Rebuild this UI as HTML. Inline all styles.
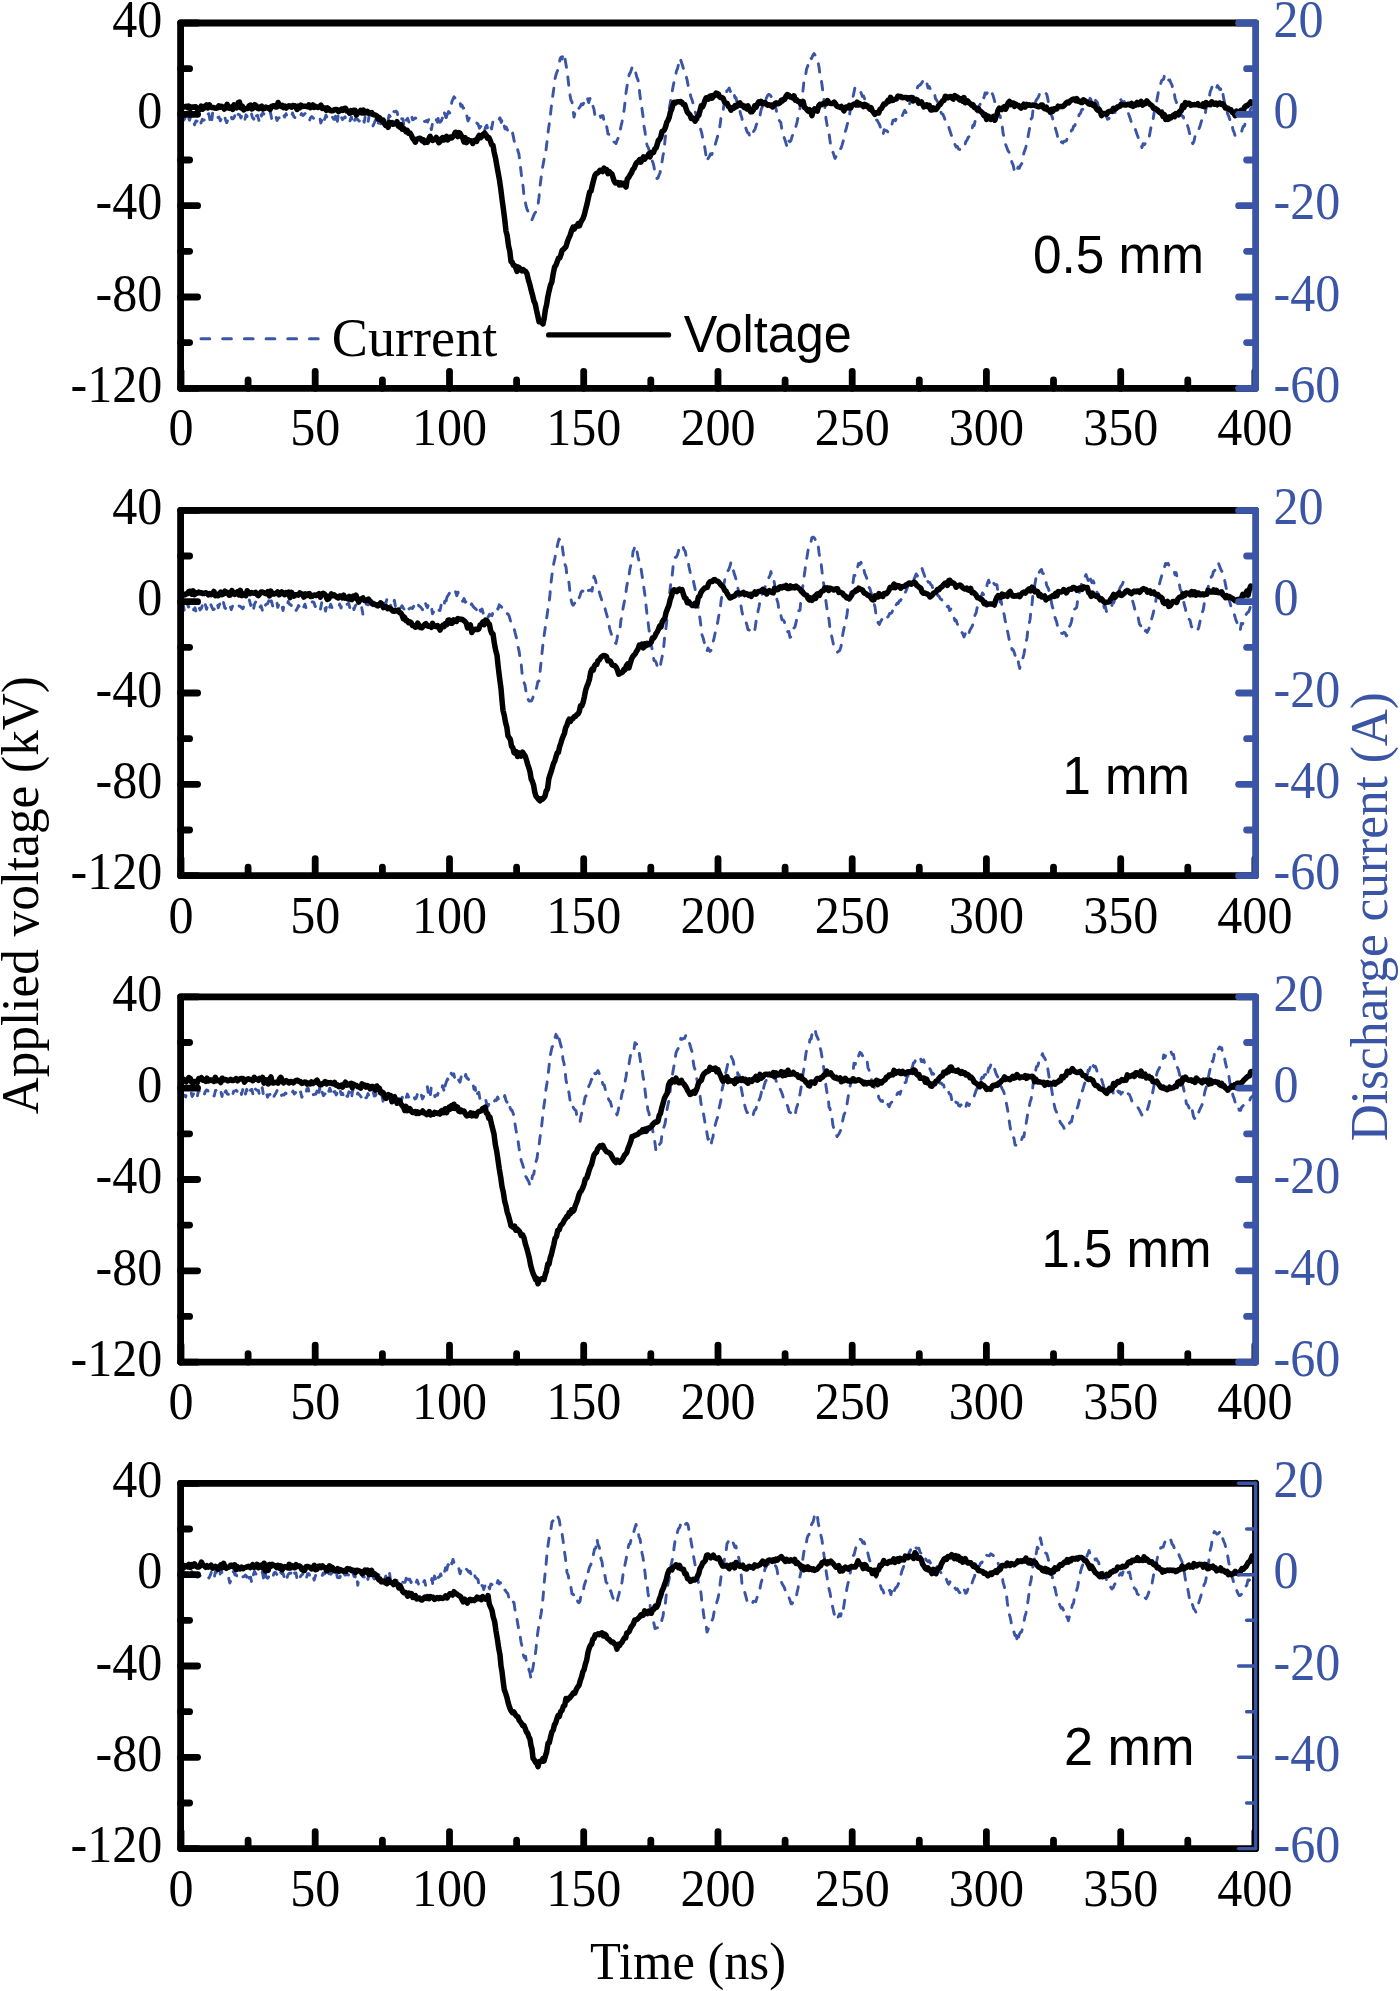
<!DOCTYPE html><html><head><meta charset="utf-8"><style>html,body{margin:0;padding:0;background:#fff;}svg{display:block}</style></head><body>
<svg width="1400" height="1991" viewBox="0 0 1400 1991">
<rect width="1400" height="1991" fill="#fff"/>
<defs><clipPath id="c0"><rect x="180.6" y="23.0" width="1075.0" height="365.3"/></clipPath></defs>
<g clip-path="url(#c0)">
<path d="M182.0 119.7 L183.2 120.6 L184.4 119.2 L185.7 115.0 L186.9 119.1 L188.2 116.6 L189.5 120.3 L190.8 116.2 L192.0 121.7 L193.3 120.5 L194.6 124.9 L195.9 120.9 L197.2 121.2 L198.5 118.2 L199.8 117.3 L201.0 123.0 L202.3 119.3 L203.6 120.3 L204.9 119.6 L206.2 120.9 L207.5 113.9 L208.8 113.8 L210.0 120.1 L211.3 124.8 L212.6 113.2 L213.9 116.5 L215.2 119.0 L216.5 116.9 L217.8 117.5 L219.0 117.1 L220.3 120.8 L221.6 118.2 L222.9 118.6 L224.2 114.7 L225.5 119.7 L226.7 122.6 L228.0 119.5 L229.3 116.8 L230.6 114.3 L231.9 118.9 L233.2 118.8 L234.5 116.8 L235.7 111.1 L237.0 115.3 L238.3 114.3 L239.6 114.8 L240.9 117.9 L242.2 114.3 L243.5 116.4 L244.7 120.6 L246.0 114.8 L247.3 116.7 L248.6 118.6 L249.9 115.1 L251.2 112.7 L252.5 117.6 L253.8 119.2 L255.1 112.1 L256.3 115.9 L257.6 115.5 L258.9 120.4 L260.2 112.4 L261.5 116.1 L262.8 112.8 L264.1 114.1 L265.4 116.8 L266.7 115.8 L268.0 116.4 L269.2 114.8 L270.5 112.5 L271.8 119.3 L273.1 120.8 L274.4 116.7 L275.7 115.8 L277.0 120.4 L278.3 118.2 L279.6 117.5 L280.9 119.3 L282.2 114.4 L283.4 114.5 L284.7 117.1 L286.0 113.7 L287.3 116.9 L288.6 117.5 L289.9 118.4 L291.2 118.2 L292.5 113.0 L293.8 116.4 L295.1 117.8 L296.4 119.6 L297.6 119.5 L298.9 116.1 L300.2 116.3 L301.5 113.6 L302.8 115.5 L304.1 114.6 L305.4 113.2 L306.7 116.0 L308.0 119.6 L309.3 121.0 L310.5 117.7 L311.8 116.5 L313.1 117.7 L314.4 119.0 L315.7 118.3 L317.0 117.9 L318.3 116.3 L319.6 116.2 L320.8 123.0 L322.1 119.9 L323.4 114.8 L324.6 119.4 L325.9 115.2 L327.2 118.0 L328.5 116.0 L329.8 118.2 L331.0 116.1 L332.3 116.9 L333.6 119.0 L334.8 119.4 L336.1 112.9 L337.4 121.3 L338.7 112.2 L339.9 114.0 L341.2 116.7 L342.5 119.6 L343.8 118.0 L345.1 116.9 L346.3 121.2 L347.6 118.6 L348.9 118.4 L350.1 120.8 L351.4 116.8 L352.7 124.6 L354.0 122.3 L355.2 118.9 L356.5 119.1 L357.8 119.5 L359.1 121.1 L360.3 120.3 L361.6 117.1 L362.9 116.5 L364.2 122.3 L365.4 115.6 L366.7 117.1 L368.0 122.5 L369.2 115.5 L370.5 120.8 L371.8 122.3 L373.0 125.9 L374.3 123.0 L375.6 119.9 L376.8 116.6 L378.1 123.1 L379.4 122.8 L380.6 123.7 L381.9 123.6 L383.2 119.5 L384.4 118.5 L385.7 116.4 L386.8 119.7 L388.0 120.0 L389.1 115.2 L390.3 116.6 L391.4 117.8 L392.6 118.5 L393.8 111.5 L394.9 112.0 L396.0 111.1 L397.2 112.3 L398.3 118.3 L399.4 119.8 L400.6 117.2 L401.7 118.8 L402.9 118.9 L404.0 126.6 L405.2 119.7 L406.5 120.1 L407.7 118.4 L408.9 122.1 L410.2 118.6 L411.4 114.6 L412.6 119.9 L413.8 119.3 L415.1 118.0 L416.3 118.3 L417.5 118.5 L418.8 118.5 L420.0 120.2 L421.3 119.8 L422.5 121.4 L423.8 121.3 L425.1 121.6 L426.3 120.6 L427.6 121.9 L428.9 119.0 L430.1 126.3 L431.4 129.6 L432.6 122.9 L433.9 119.8 L435.1 122.4 L436.3 119.8 L437.5 122.2 L438.8 114.5 L440.0 122.3 L441.2 121.2 L442.4 117.9 L443.6 110.3 L444.9 114.5 L446.1 117.5" fill="none" stroke="#3b55a6" stroke-width="2.9" stroke-dasharray="6.5 10.5" stroke-linecap="round" stroke-linejoin="round"/>
<path d="M446.1 117.5 L447.3 114.3 L448.5 111.6 L449.7 112.9 L450.8 108.3 L451.9 101.5 L452.9 99.3 L454.0 96.8 L455.1 98.1 L456.3 99.5 L457.4 99.5 L458.6 98.9 L459.7 101.3 L460.9 106.4 L462.0 105.1 L463.2 108.2 L464.4 107.7 L465.6 114.6 L466.8 115.6 L468.0 121.0 L469.3 118.0 L470.5 119.3 L471.8 119.7 L473.1 119.8 L474.4 121.0 L475.6 122.6 L476.9 123.1 L478.2 124.4 L479.5 128.2 L480.7 126.4 L482.0 127.0 L483.2 125.5 L484.4 131.1 L485.6 127.0 L486.8 125.2 L488.0 130.3 L489.2 129.5 L490.4 125.9 L491.6 129.0 L492.8 122.1 L494.0 121.1 L495.2 122.6 L496.4 120.9 L497.6 119.9 L498.8 120.3 L500.0 117.7 L501.2 122.4 L502.5 118.7 L503.8 124.3 L505.0 128.9 L506.2 127.1 L507.5 130.1 L508.8 132.8 L510.0 132.3 L511.2 134.0 L512.4 132.1 L513.6 137.9 L514.8 143.7 L516.0 144.1 L517.0 146.2 L518.0 151.2 L519.0 154.3 L520.0 163.4 L521.0 171.2 L522.0 180.9 L523.0 185.7 L524.0 195.7 L525.0 200.5 L526.0 205.7 L527.2 209.8 L528.4 211.8 L529.6 214.9 L530.8 216.6 L532.0 219.7 L533.2 216.7 L534.4 213.9 L535.6 212.2 L536.8 207.9 L538.0 205.2 L539.0 197.2 L540.0 186.4 L541.0 178.8 L542.0 170.2 L543.0 165.2 L544.0 159.7 L545.0 151.1 L546.0 150.0 L547.2 140.3 L548.5 128.8 L549.8 120.9 L551.0 109.6 L552.0 101.0 L553.0 94.2 L554.0 87.3 L555.0 78.9 L556.2 74.1 L557.5 70.7 L558.8 66.9 L560.0 59.0 L561.0 57.3 L562.0 58.9 L563.0 54.8 L564.0 53.3 L565.0 58.7 L566.0 64.7 L567.0 70.1 L568.0 78.5 L569.0 87.6 L570.0 94.9 L571.0 100.2 L572.0 101.8 L573.0 109.6 L574.0 117.1 L575.2 111.7 L576.5 113.2 L577.8 109.0 L579.0 108.2 L580.2 106.7 L581.5 104.0 L582.8 104.7 L584.0 102.5 L585.2 104.4 L586.3 100.4 L587.5 98.5 L588.7 102.6 L589.8 98.7 L591.0 98.2 L592.0 105.5 L593.0 106.3 L594.0 109.4 L595.0 115.5 L596.1 115.8 L597.3 115.4 L598.4 116.5 L599.6 114.2 L600.7 117.4 L601.9 115.7 L603.0 115.6 L604.2 122.2 L605.5 121.5 L606.8 127.1 L608.0 133.9 L609.1 134.4 L610.3 136.4 L611.4 137.1 L612.6 140.7 L613.7 142.1 L614.9 142.1 L616.0 143.5 L617.2 140.1 L618.5 137.3 L619.8 132.8 L621.0 126.2 L622.0 122.0 L623.0 116.6 L624.0 110.8 L625.0 102.3 L626.0 92.7 L627.0 86.5 L628.0 80.5 L629.2 74.4 L630.5 72.4 L631.8 68.2 L633.0 66.1 L634.2 69.5 L635.5 71.7 L636.8 77.2 L638.0 79.8 L639.0 86.5 L640.0 95.5 L641.0 103.8 L642.0 109.0 L643.0 116.3 L644.0 126.0 L645.0 131.5 L646.0 140.5 L647.2 145.8 L648.4 147.8 L649.6 152.2 L650.8 155.5 L652.0 160.4 L653.0 162.7 L654.0 166.8 L655.0 173.1 L656.0 174.8 L657.0 178.5 L658.0 177.9 L659.0 175.1 L660.0 173.0 L661.0 167.2 L662.0 162.1 L663.0 155.4 L664.0 151.5 L665.0 140.0 L666.0 132.8 L667.0 122.5 L668.0 112.1 L669.2 108.9 L670.4 102.3 L671.6 94.9 L672.8 88.1 L674.0 82.0 L675.2 76.9 L676.4 71.3 L677.6 68.2 L678.8 63.3 L680.0 58.1 L681.2 61.5 L682.4 65.1 L683.6 69.2 L684.8 73.9 L686.0 75.7 L687.2 80.4 L688.4 86.8 L689.6 90.0 L690.8 96.8 L692.0 99.7 L693.2 103.8 L694.4 109.3 L695.6 113.3 L696.8 115.9 L698.0 119.6 L699.2 126.6 L700.5 128.6 L701.8 133.3 L703.0 139.5 L704.0 143.1 L705.0 148.8 L706.0 155.7 L707.0 161.5 L708.2 158.2 L709.3 156.7 L710.5 153.8 L711.7 154.6 L712.8 151.8 L714.0 148.7 L715.2 144.8 L716.5 140.2 L717.8 135.7 L719.0 131.9 L720.0 125.6 L721.0 117.6 L722.0 114.6 L723.0 111.4 L724.2 102.9 L725.5 99.8 L726.8 90.8 L728.0 90.1 L729.2 88.0 L730.4 91.4 L731.6 90.9 L732.8 95.5 L734.0 93.9 L735.0 98.0 L736.0 97.7 L737.0 103.0 L738.0 104.3 L739.2 107.0 L740.5 113.7 L741.8 117.6 L743.0 123.8 L744.2 125.4 L745.3 126.6 L746.5 130.1 L747.7 132.9 L748.8 133.1 L750.0 137.6 L751.2 134.9 L752.5 133.5 L753.8 131.1 L755.0 129.2 L756.2 125.3 L757.5 121.9 L758.8 118.4 L760.0 115.6 L761.0 110.3 L762.0 107.4 L763.0 106.1 L764.0 102.0 L765.2 101.2 L766.5 97.9 L767.8 95.1 L769.0 94.3 L770.2 95.2 L771.5 96.9 L772.8 99.2 L774.0 98.2 L775.0 103.3 L776.0 108.8 L777.0 113.7 L778.2 118.8 L779.5 120.8 L780.8 122.5 L782.0 130.1 L783.0 131.9 L784.0 137.2 L785.0 139.9 L786.0 143.3 L787.2 147.4 L788.5 140.5 L789.8 141.8 L791.0 140.5 L792.2 136.0 L793.5 134.1 L794.8 130.5 L796.0 126.1 L797.0 122.4 L798.0 117.6 L799.0 112.4 L800.0 108.2 L801.0 103.5 L802.0 95.6 L803.0 90.2 L804.0 81.0 L805.2 78.1 L806.5 69.3 L807.8 65.9 L809.0 58.4 L810.2 57.7 L811.5 58.7 L812.8 55.4 L814.0 53.4 L815.0 55.0 L816.0 57.4 L817.0 58.1 L818.0 62.0 L819.0 67.1 L820.0 74.3 L821.0 78.4 L822.0 84.8 L823.0 92.5 L824.0 100.1 L825.0 108.1 L826.0 119.1 L827.0 124.5 L828.0 130.6 L829.0 133.5 L830.0 140.5 L831.0 147.7 L832.0 151.1 L833.0 152.3 L834.0 155.2 L835.0 158.4 L836.2 156.4 L837.4 154.3 L838.6 151.2 L839.8 149.0 L841.0 148.4 L842.2 144.6 L843.5 140.1 L844.8 132.9 L846.0 129.6 L847.2 124.5 L848.5 121.1 L849.8 113.3 L851.0 106.1 L852.0 102.8 L853.0 97.0 L854.0 92.4 L855.0 87.3 L856.2 87.3 L857.5 87.4 L858.8 88.8 L860.0 90.5 L861.2 93.2 L862.4 96.4 L863.6 96.0 L864.8 99.5 L866.0 102.4 L867.2 101.0 L868.4 103.5 L869.6 107.7 L870.8 108.8 L872.0 111.1 L873.0 112.9 L874.0 117.4 L875.0 117.5 L876.0 119.6 L877.2 120.3 L878.3 122.4 L879.5 124.5 L880.7 128.4 L881.8 129.6 L883.0 134.8 L884.2 129.6 L885.5 130.5 L886.8 130.7 L888.0 132.1 L889.2 129.1 L890.5 128.4 L891.8 124.7 L893.0 120.3 L894.2 119.8 L895.3 120.8 L896.5 118.2 L897.7 118.0 L898.8 114.9 L900.0 115.6 L901.2 115.0 L902.4 115.5 L903.6 112.4 L904.8 110.3 L906.0 112.6 L907.2 109.9 L908.4 107.4 L909.6 103.8 L910.8 100.6 L912.0 98.4 L913.2 97.3 L914.4 95.5 L915.6 90.4 L916.8 89.1 L918.0 86.3 L919.2 85.5 L920.5 84.5 L921.8 82.9 L923.0 80.6 L924.2 83.1 L925.5 85.0 L926.8 82.9 L928.0 88.0 L929.2 86.5 L930.5 89.4 L931.8 89.9 L933.0 92.3 L934.2 92.2 L935.5 98.6 L936.8 100.4 L938.0 102.6 L939.2 108.9 L940.4 111.0 L941.6 113.6 L942.8 114.2 L944.0 116.8 L945.2 120.4 L946.4 121.1 L947.6 126.1 L948.8 127.1 L950.0 131.0 L951.2 134.8 L952.5 137.6 L953.8 140.4 L955.0 144.6 L956.2 147.0 L957.4 146.5 L958.6 149.1 L959.8 149.5 L961.0 150.4 L962.2 147.8 L963.4 147.0 L964.6 146.3 L965.8 141.6 L967.0 140.3 L968.2 137.4 L969.5 136.1 L970.8 133.9 L972.0 129.7 L973.0 125.1 L974.1 125.6 L975.2 120.6 L976.2 117.2 L977.5 111.6 L978.8 106.4 L980.1 104.5 L981.4 97.5 L982.6 96.8 L983.9 97.8 L985.1 92.9 L986.4 94.0 L987.6 92.3 L988.9 93.1 L990.2 95.3 L991.5 92.3 L992.8 94.6 L993.8 98.2 L994.9 102.1 L995.9 102.8 L996.9 105.5 L998.0 112.0 L999.0 115.5 L1000.1 115.6 L1001.1 123.1 L1002.1 125.4 L1003.2 134.0 L1004.2 137.7 L1005.5 144.1 L1006.8 147.5 L1008.1 150.9 L1009.4 152.7 L1010.6 156.2 L1011.9 162.5 L1013.1 164.9 L1014.4 171.1 L1015.6 173.3 L1016.8 170.8 L1018.1 167.0 L1019.3 168.2 L1020.6 165.2 L1021.8 163.7 L1022.8 159.1 L1023.9 152.8 L1024.9 150.0 L1025.9 147.3 L1027.0 139.8 L1028.0 136.8 L1029.0 131.5 L1030.1 125.3 L1031.1 118.9 L1032.2 117.4 L1033.2 107.9 L1034.2 104.7 L1035.2 102.9 L1036.3 100.0 L1037.3 98.7 L1038.4 96.9 L1039.4 94.4 L1040.7 94.1 L1042.0 93.4 L1043.3 95.5 L1044.6 93.7 L1045.6 93.0 L1046.7 94.2 L1047.7 98.2 L1048.7 104.2 L1049.8 107.7 L1050.8 112.7 L1051.8 115.8 L1052.8 118.9 L1053.9 124.8 L1054.9 126.7 L1056.0 130.3 L1057.0 133.9 L1058.0 138.6 L1059.1 140.3 L1060.3 143.6 L1061.6 141.9 L1062.8 143.0 L1064.1 141.1 L1065.3 141.3 L1066.5 140.6 L1067.8 136.9 L1069.0 135.3 L1070.3 134.6 L1071.5 130.1 L1072.5 129.8 L1073.6 126.2 L1074.6 126.0 L1075.7 123.3 L1076.7 121.5 L1077.9 120.3 L1079.2 114.3 L1080.4 113.6 L1081.7 109.7 L1082.9 109.4 L1084.1 107.2 L1085.3 108.8 L1086.5 105.5 L1087.7 101.6 L1088.9 101.4 L1090.1 98.3 L1091.1 99.7 L1092.2 98.3 L1093.2 97.1 L1094.3 96.1 L1095.3 100.3 L1096.3 101.2 L1097.4 102.4 L1098.4 106.7 L1099.5 108.0 L1100.5 108.9 L1101.5 113.5 L1102.6 114.6 L1103.9 114.6 L1105.2 114.7 L1106.4 116.6 L1107.7 119.3 L1108.9 118.7 L1110.1 116.1 L1111.3 115.6 L1112.6 112.2 L1113.8 111.2 L1115.0 112.4 L1116.0 108.2 L1117.1 105.9 L1118.1 104.0 L1119.2 100.3 L1120.2 98.0 L1121.2 100.4 L1122.2 101.5 L1123.3 101.9 L1124.3 101.5 L1125.3 105.3 L1126.4 108.7 L1127.4 113.5 L1128.5 113.6 L1129.5 116.5 L1130.5 119.4 L1131.6 123.6 L1132.6 123.9 L1133.7 126.4 L1134.7 127.5 L1135.9 130.9 L1137.1 134.5 L1138.3 137.7 L1139.5 139.9 L1140.7 143.0 L1141.9 147.7 L1143.1 143.7 L1144.4 144.7 L1145.6 142.9 L1146.9 142.4 L1148.1 141.9 L1149.1 137.3 L1150.2 131.6 L1151.2 126.2 L1152.3 124.0 L1153.3 118.1 L1154.3 111.8 L1155.4 109.7 L1156.4 102.5 L1157.5 97.0 L1158.5 91.5 L1159.5 89.0 L1160.6 84.1 L1161.6 80.7 L1162.7 79.8 L1163.7 79.0 L1164.7 74.1 L1165.7 74.5 L1166.8 76.6 L1167.8 79.0 L1168.9 80.4 L1169.9 80.1 L1170.9 83.0 L1172.0 85.0 L1173.0 90.8 L1174.0 90.4 L1175.0 98.3 L1176.1 101.2 L1177.1 104.9 L1178.3 105.4 L1179.6 109.8 L1180.8 113.5 L1182.1 116.2 L1183.3 116.5 L1184.3 121.8 L1185.4 121.4 L1186.4 122.5 L1187.5 125.5 L1188.5 128.7 L1189.5 133.2 L1190.6 135.8 L1191.7 140.0 L1192.7 143.7 L1194.0 141.3 L1195.2 135.5 L1196.5 134.3 L1197.8 133.7 L1199.1 128.6 L1200.3 125.2 L1201.6 120.6 L1202.8 120.1 L1204.1 118.8 L1205.1 114.5 L1206.2 107.7 L1207.2 103.0 L1208.2 101.8 L1209.2 97.5 L1210.2 91.7 L1211.3 89.0 L1212.3 86.1 L1213.3 84.8 L1214.4 84.0 L1215.4 85.7 L1216.5 88.1 L1217.5 85.5 L1218.5 86.9 L1219.6 89.3 L1220.6 88.7 L1221.7 94.5 L1222.7 92.2 L1223.7 98.7 L1224.8 103.4 L1225.8 104.8 L1226.8 110.6 L1227.8 114.4 L1228.9 116.7 L1230.0 120.1 L1231.0 125.0 L1232.0 124.5 L1233.0 129.9 L1234.1 132.3 L1235.1 135.8 L1236.3 134.7 L1237.6 135.3 L1238.8 134.1 L1240.1 133.1 L1241.3 132.6 L1242.3 129.1 L1243.4 126.1 L1244.4 126.2 L1245.5 121.5 L1246.5 119.0 L1247.5 116.8 L1248.6 116.0 L1249.6 111.8 L1250.7 109.0 L1251.9 107.4 L1253.0 105.1" fill="none" stroke="#3b55a6" stroke-width="2.9" stroke-dasharray="8.3 9.7" stroke-linecap="round" stroke-linejoin="round"/>
<path d="M182.0 108.0 L183.4 107.3 L184.7 106.8 L186.1 106.2 L187.5 107.7 L188.8 106.1 L190.2 108.6 L191.6 107.1 L192.9 107.1 L194.3 107.2 L195.7 106.7 L197.0 108.6 L198.4 108.0 L199.8 109.7 L201.1 106.2 L202.5 109.2 L203.8 106.5 L205.2 107.5 L206.6 104.9 L207.9 107.9 L209.3 104.8 L210.7 107.1 L212.0 107.5 L213.4 107.5 L214.8 108.1 L216.1 108.2 L217.5 107.9 L218.9 105.8 L220.2 107.2 L221.6 106.3 L223.0 107.3 L224.3 109.1 L225.7 107.5 L227.1 104.3 L228.5 108.0 L229.9 108.4 L231.2 107.1 L232.6 109.4 L234.0 104.9 L235.4 105.8 L236.8 107.8 L238.2 102.6 L239.5 102.1 L240.9 107.9 L242.3 106.1 L243.7 109.9 L245.1 108.8 L246.5 108.4 L247.9 108.4 L249.2 105.7 L250.6 105.1 L252.0 109.0 L253.4 107.8 L254.8 104.7 L256.2 105.9 L257.6 108.4 L258.9 108.7 L260.3 106.9 L261.7 106.1 L263.1 109.0 L264.5 108.5 L265.9 107.1 L267.2 107.9 L268.6 107.8 L270.0 109.4 L271.4 106.6 L272.7 106.0 L274.1 105.7 L275.4 107.0 L276.8 106.9 L278.1 102.5 L279.5 105.3 L280.8 106.4 L282.2 105.4 L283.5 107.5 L284.9 106.2 L286.2 108.0 L287.5 106.8 L288.9 105.7 L290.2 106.3 L291.6 107.2 L292.9 105.4 L294.3 105.6 L295.6 106.2 L297.0 109.5 L298.3 106.1 L299.7 107.8 L301.0 105.2 L302.3 106.6 L303.7 106.2 L305.0 106.2 L306.3 106.4 L307.7 106.8 L309.0 104.8 L310.3 107.7 L311.7 106.9 L313.0 105.0 L314.3 107.4 L315.6 106.2 L317.0 107.1 L318.3 107.5 L319.6 106.7 L321.0 105.2 L322.3 108.5 L323.6 108.0 L325.0 108.1 L326.3 110.3 L327.7 108.0 L329.0 109.1 L330.4 110.6 L331.8 110.9 L333.1 110.5 L334.5 109.7 L335.9 109.4 L337.3 109.7 L338.6 111.6 L340.0 110.5 L341.4 109.1 L342.7 110.3 L344.1 108.7 L345.5 108.2 L346.9 111.1 L348.2 110.9 L349.6 113.2 L351.0 110.6 L352.3 112.0 L353.7 110.3 L355.1 110.2 L356.4 115.2 L357.8 112.8 L359.2 112.2 L360.6 110.5 L361.9 113.0 L363.3 110.0 L364.7 113.1 L366.1 112.9 L367.4 111.4 L368.8 113.2 L370.2 112.8 L371.6 112.6 L372.9 114.5 L374.3 114.8 L375.6 115.1 L376.8 116.0 L378.1 119.1 L379.4 117.7 L380.6 119.0 L381.9 121.1 L383.2 120.2 L384.4 123.4 L385.7 125.4 L387.0 124.5 L388.2 127.3 L389.5 122.3 L390.7 123.6 L392.0 122.6 L393.2 124.3 L394.5 123.7 L395.7 123.5 L397.0 121.7 L398.3 125.9 L399.6 127.1 L400.9 124.7 L402.2 129.3 L403.4 128.1 L404.7 129.4 L406.0 131.7 L407.3 130.4 L408.6 133.3 L410.0 133.0 L411.3 135.1 L412.7 138.3 L414.0 139.9 L415.4 142.2 L416.7 139.2 L418.1 138.8 L419.4 138.2 L420.7 138.6 L422.1 140.8 L423.4 139.8 L424.7 142.6 L426.1 141.8 L427.4 142.3 L428.7 139.2 L430.1 136.3 L431.4 139.1 L432.6 140.5 L433.9 139.6 L435.1 139.1 L436.3 137.5 L437.5 139.6 L438.8 142.7 L440.0 141.5 L441.3 138.8 L442.6 137.6 L443.9 140.0 L445.2 139.5 L446.5 136.4 L447.8 139.9 L449.1 137.7 L450.4 137.1 L451.7 138.0 L453.0 136.5 L454.3 134.7 L455.4 132.2 L456.6 132.6 L457.7 136.6 L458.9 132.6 L460.0 133.2 L461.3 135.8 L462.7 138.0 L464.0 141.9 L465.2 137.6 L466.5 142.6 L467.8 139.5 L469.0 140.9 L470.2 140.7 L471.5 141.0 L472.8 143.5 L474.0 140.5 L475.3 140.0 L476.7 141.3 L478.0 137.5 L479.3 135.3 L480.7 137.6 L482.0 136.3 L483.3 134.2 L484.7 133.1 L486.0 134.8 L487.4 138.2 L488.8 137.5 L490.2 140.4 L491.6 144.6 L493.0 145.4 L494.2 152.3 L495.5 158.0 L496.8 165.3 L498.0 172.1 L499.3 178.9 L500.7 188.3 L502.0 199.0 L503.3 208.3 L504.7 219.4 L506.0 231.1 L507.2 235.7 L508.5 245.7 L509.8 251.2 L511.0 261.5 L512.2 262.2 L513.4 265.3 L514.6 265.5 L515.8 267.9 L517.0 271.4 L518.0 266.9 L519.3 267.8 L520.6 269.4 L521.9 270.8 L523.1 269.6 L524.4 270.8 L525.7 271.5 L527.0 273.9 L528.4 279.9 L529.8 284.4 L531.2 290.3 L532.6 295.3 L534.0 301.3 L535.2 303.7 L536.5 310.3 L537.8 315.9 L539.0 321.8 L540.3 321.1 L541.7 322.7 L543.0 323.9 L544.2 318.1 L545.4 309.7 L546.6 304.7 L547.8 297.0 L549.0 291.3 L550.4 285.4 L551.8 282.2 L553.2 273.7 L554.6 267.1 L556.0 265.0 L557.2 261.7 L558.5 258.1 L559.8 257.8 L561.0 254.4 L562.2 250.4 L563.5 249.3 L564.8 248.0 L566.0 246.6 L567.4 241.8 L568.8 238.1 L570.2 235.1 L571.6 230.6 L573.0 227.2 L574.3 229.0 L575.6 226.3 L576.9 226.3 L578.1 223.6 L579.4 225.9 L580.7 222.6 L582.0 220.1 L583.2 218.2 L584.5 214.1 L585.8 208.7 L587.0 204.3 L588.3 198.1 L589.7 191.8 L591.0 191.1 L592.3 185.2 L593.7 179.7 L595.0 175.2 L596.3 173.6 L597.6 173.0 L598.9 171.8 L600.1 170.3 L601.4 170.2 L602.7 171.6 L604.0 168.1 L605.3 170.4 L606.7 169.6 L608.0 173.6 L609.3 171.6 L610.7 173.3 L612.0 174.3 L613.0 177.4 L614.0 180.7 L615.3 183.0 L616.7 182.4 L618.0 182.4 L619.3 185.0 L620.7 182.8 L622.0 184.8 L623.3 183.3 L624.7 185.0 L626.0 187.0 L627.3 178.9 L628.7 177.5 L630.0 175.0 L631.4 172.9 L632.8 169.6 L634.2 168.0 L635.6 164.4 L637.0 162.3 L638.3 162.0 L639.6 159.5 L640.9 162.1 L642.2 158.9 L643.5 156.9 L644.8 159.1 L646.1 157.1 L647.4 156.4 L648.7 153.9 L650.0 156.9 L651.2 152.5 L652.4 153.1 L653.6 152.2 L654.8 148.9 L656.0 148.0 L657.2 144.5 L658.4 140.3 L659.6 139.3 L660.8 136.9 L662.0 131.5 L663.2 131.0 L664.4 129.9 L665.6 126.7 L666.8 122.3 L668.0 120.4 L669.2 117.5 L670.4 112.1 L671.6 109.5 L672.8 105.2 L674.0 102.4 L675.3 103.0 L676.7 101.9 L678.0 101.7 L679.3 101.9 L680.7 101.5 L682.0 102.4 L683.3 104.4 L684.7 104.4 L686.0 108.4 L687.3 112.0 L688.7 113.7 L690.0 114.8 L691.2 118.3 L692.5 117.8 L693.8 118.6 L695.0 121.2 L696.2 118.8 L697.5 116.6 L698.8 115.3 L700.0 110.7 L701.2 105.8 L702.4 107.1 L703.6 104.5 L704.8 100.9 L706.0 98.0 L707.2 97.7 L708.5 99.1 L709.8 96.2 L711.0 95.9 L712.2 98.1 L713.5 95.4 L714.8 95.7 L716.0 93.0 L717.2 93.6 L718.4 94.0 L719.6 96.9 L720.8 97.6 L722.0 97.4 L723.3 98.6 L724.6 102.1 L725.9 103.3 L727.1 103.3 L728.4 106.4 L729.7 107.1 L731.0 110.2 L732.3 107.7 L733.6 108.2 L734.9 105.7 L736.1 106.8 L737.4 105.9 L738.7 103.4 L740.0 102.9 L741.3 105.5 L742.7 105.2 L744.0 107.3 L745.3 106.5 L746.7 108.8 L748.0 105.8 L749.3 109.5 L750.7 111.9 L752.0 111.7 L753.3 110.1 L754.7 105.8 L756.0 107.4 L757.3 104.4 L758.7 101.9 L760.0 103.0 L761.2 101.4 L762.5 103.8 L763.8 103.2 L765.0 102.4 L766.2 104.1 L767.5 105.2 L768.8 104.7 L770.0 105.4 L771.2 105.1 L772.5 106.9 L773.8 105.4 L775.0 103.6 L776.2 102.8 L777.5 103.8 L778.8 103.5 L780.0 102.9 L781.2 100.4 L782.4 100.9 L783.6 99.2 L784.8 99.4 L786.0 96.2 L787.3 94.6 L788.7 95.2 L790.0 96.9 L791.3 97.0 L792.7 97.9 L794.0 95.8 L795.3 100.3 L796.7 99.8 L798.0 101.5 L799.3 101.5 L800.7 104.1 L802.0 103.4 L803.2 101.5 L804.5 107.4 L805.8 108.3 L807.0 109.8 L808.2 111.0 L809.5 109.7 L810.8 111.8 L812.0 115.6 L813.3 111.0 L814.7 108.8 L816.0 110.2 L817.3 111.1 L818.7 105.9 L820.0 104.4 L821.2 104.8 L822.5 104.0 L823.8 103.2 L825.0 104.1 L826.2 103.8 L827.5 100.5 L828.8 102.6 L830.0 103.2 L831.4 103.5 L832.8 103.4 L834.2 102.1 L835.6 104.0 L837.0 106.4 L838.4 106.7 L839.8 107.4 L841.2 106.4 L842.6 108.5 L844.0 110.8 L845.3 107.4 L846.7 106.9 L848.0 107.9 L849.3 105.4 L850.7 107.9 L852.0 105.3 L853.3 104.4 L854.7 104.0 L856.0 104.9 L857.2 102.2 L858.5 105.0 L859.8 103.7 L861.0 105.0 L862.2 104.8 L863.5 106.5 L864.8 104.4 L866.0 105.0 L867.2 106.6 L868.5 107.4 L869.8 109.1 L871.0 107.6 L872.2 110.7 L873.5 112.2 L874.8 114.4 L876.0 113.0 L877.3 112.3 L878.7 113.0 L880.0 109.4 L881.3 108.6 L882.7 106.3 L884.0 103.9 L885.3 104.1 L886.7 102.5 L888.0 100.3 L889.2 101.3 L890.5 97.4 L891.8 100.6 L893.0 100.4 L894.2 99.4 L895.5 99.1 L896.8 98.6 L898.0 96.0 L899.4 96.5 L900.8 96.4 L902.2 97.8 L903.6 97.6 L905.0 97.6 L906.4 97.4 L907.8 99.1 L909.2 97.8 L910.6 97.6 L912.0 97.5 L913.3 100.9 L914.7 99.8 L916.0 99.3 L917.3 100.0 L918.7 103.3 L920.0 102.8 L921.3 101.8 L922.7 104.5 L924.0 106.9 L925.3 105.4 L926.7 104.9 L928.0 106.8 L929.3 105.3 L930.7 109.9 L932.0 109.9 L933.3 108.0 L934.7 109.6 L936.0 109.5 L937.3 107.9 L938.7 105.5 L940.0 104.7 L941.3 102.8 L942.7 100.7 L944.0 100.4 L945.3 96.3 L946.7 96.6 L948.0 97.8 L949.3 96.9 L950.7 96.5 L952.0 98.0 L953.3 99.0 L954.7 95.5 L956.0 96.6 L957.3 96.9 L958.7 99.0 L960.0 100.0 L961.3 98.7 L962.7 101.1 L964.0 97.5 L965.3 102.8 L966.7 100.5 L968.0 101.2 L969.3 103.1 L970.6 103.8 L971.9 105.4 L973.1 104.9 L974.4 107.5 L975.7 107.7 L977.0 109.6 L978.3 108.6 L979.7 110.8 L981.1 111.6 L982.5 113.0 L983.8 115.3 L985.2 114.6 L986.6 119.4 L988.0 116.0 L989.4 117.0 L990.8 119.3 L992.1 117.5 L993.5 116.3 L994.9 120.2 L995.9 117.0 L997.0 114.2 L998.0 110.6 L999.3 108.1 L1000.5 109.0 L1001.8 109.6 L1003.1 107.6 L1004.3 106.6 L1005.6 109.2 L1006.9 106.4 L1008.1 103.0 L1009.4 101.4 L1010.7 104.6 L1012.0 103.4 L1013.3 103.0 L1014.5 106.4 L1015.8 104.2 L1017.1 105.2 L1018.4 105.4 L1019.7 106.9 L1021.1 108.1 L1022.5 106.8 L1023.8 104.2 L1025.2 107.1 L1026.6 104.4 L1028.0 105.3 L1029.3 104.8 L1030.7 105.4 L1032.1 105.3 L1033.4 105.0 L1034.7 105.5 L1036.0 105.6 L1037.3 106.4 L1038.6 106.7 L1039.9 106.5 L1041.2 105.1 L1042.5 105.0 L1043.8 108.1 L1045.1 108.8 L1046.4 107.1 L1047.7 109.9 L1049.0 109.9 L1050.3 112.2 L1051.6 109.3 L1052.9 111.2 L1054.2 108.8 L1055.5 108.8 L1056.8 108.9 L1058.1 106.2 L1059.3 106.7 L1060.6 106.6 L1061.9 106.5 L1063.2 106.4 L1064.6 105.0 L1066.0 103.2 L1067.3 102.1 L1068.7 102.9 L1070.1 101.0 L1071.5 100.1 L1072.8 99.2 L1074.2 99.1 L1075.6 100.7 L1076.9 98.7 L1078.2 101.3 L1079.5 101.0 L1080.8 102.4 L1082.1 102.5 L1083.4 99.8 L1084.7 100.6 L1086.0 101.7 L1087.4 102.2 L1088.8 103.9 L1090.2 104.3 L1091.5 103.2 L1092.9 105.3 L1094.3 104.5 L1095.5 107.2 L1096.7 109.2 L1097.9 110.3 L1099.1 109.3 L1100.3 111.5 L1101.5 115.6 L1102.8 113.8 L1104.2 113.5 L1105.5 113.9 L1106.8 114.2 L1108.1 111.8 L1109.5 111.4 L1110.8 111.1 L1112.1 111.4 L1113.4 108.3 L1114.7 109.3 L1116.0 108.6 L1117.3 107.2 L1118.6 106.8 L1119.9 106.3 L1121.2 104.2 L1122.5 104.7 L1123.8 104.9 L1125.2 105.0 L1126.5 105.1 L1127.8 104.2 L1129.1 104.3 L1130.4 105.3 L1131.7 103.4 L1133.1 106.3 L1134.4 104.5 L1135.7 105.1 L1137.1 102.4 L1138.5 104.5 L1139.8 103.7 L1141.2 101.5 L1142.6 105.1 L1144.0 103.2 L1145.3 103.6 L1146.7 100.9 L1148.1 102.5 L1149.5 103.9 L1150.9 104.9 L1152.2 106.0 L1153.6 108.5 L1155.0 108.2 L1156.4 109.5 L1157.7 110.1 L1159.1 112.1 L1160.4 113.0 L1161.7 112.2 L1163.0 116.5 L1164.4 114.7 L1165.7 119.4 L1167.0 117.2 L1168.2 119.4 L1169.5 117.0 L1170.8 117.9 L1172.0 116.5 L1173.3 115.2 L1174.6 116.7 L1175.8 113.5 L1177.1 113.5 L1178.5 114.8 L1179.9 111.1 L1181.2 110.7 L1182.6 105.6 L1184.0 107.6 L1185.4 102.6 L1186.8 104.3 L1188.2 103.2 L1189.5 103.5 L1190.9 105.4 L1192.3 104.7 L1193.7 104.7 L1195.0 104.6 L1196.4 104.8 L1197.8 103.7 L1199.2 105.4 L1200.6 105.4 L1202.0 106.1 L1203.3 103.9 L1204.7 106.7 L1206.1 102.5 L1207.5 104.3 L1208.9 104.4 L1210.3 104.7 L1211.7 101.8 L1213.1 103.4 L1214.4 104.3 L1215.8 103.2 L1217.2 104.8 L1218.6 103.4 L1220.0 103.0 L1221.3 104.4 L1222.7 103.9 L1224.1 105.4 L1225.4 108.1 L1226.8 108.0 L1228.2 108.4 L1229.6 109.8 L1230.9 109.8 L1232.3 112.5 L1233.7 112.3 L1235.1 115.6 L1236.5 111.1 L1237.9 114.0 L1239.2 112.5 L1240.6 110.7 L1242.0 109.9 L1243.4 110.4 L1244.6 107.2 L1245.9 105.8 L1247.1 105.9 L1248.3 104.6 L1249.5 103.8 L1250.8 101.8 L1252.0 103.3" fill="none" stroke="#000" stroke-width="5.5" stroke-linejoin="round" stroke-linecap="round"/>
</g>
<g stroke="#000" stroke-width="6.8" stroke-linecap="round" fill="none">
<path d="M1255.6 23.0 L180.6 23.0 L180.6 388.3 L1255.6 388.3" stroke-linejoin="round"/>
<path d="M180.6 23.0 H197.6"/>
<path d="M180.6 68.7 H189.6"/>
<path d="M180.6 114.3 H197.6"/>
<path d="M180.6 160.0 H189.6"/>
<path d="M180.6 205.7 H197.6"/>
<path d="M180.6 251.3 H189.6"/>
<path d="M180.6 297.0 H197.6"/>
<path d="M180.6 342.6 H189.6"/>
<path d="M180.6 388.3 H197.6"/>
<path d="M181.0 388.3 V371.3"/>
<path d="M248.1 388.3 V379.8"/>
<path d="M315.2 388.3 V371.3"/>
<path d="M382.4 388.3 V379.8"/>
<path d="M449.5 388.3 V371.3"/>
<path d="M516.6 388.3 V379.8"/>
<path d="M583.7 388.3 V371.3"/>
<path d="M650.8 388.3 V379.8"/>
<path d="M718.0 388.3 V371.3"/>
<path d="M785.1 388.3 V379.8"/>
<path d="M852.2 388.3 V371.3"/>
<path d="M919.3 388.3 V379.8"/>
<path d="M986.4 388.3 V371.3"/>
<path d="M1053.5 388.3 V379.8"/>
<path d="M1120.7 388.3 V371.3"/>
<path d="M1187.8 388.3 V379.8"/>
<path d="M1254.9 388.3 V371.3"/>
</g>
<g stroke="#3b55a6" stroke-width="6.8" stroke-linecap="round" fill="none">
<path d="M1255.6 23.0 V388.3"/>
<path d="M1255.6 23.0 H1238.6"/>
<path d="M1255.6 68.7 H1246.6"/>
<path d="M1255.6 114.3 H1238.6"/>
<path d="M1255.6 160.0 H1246.6"/>
<path d="M1255.6 205.7 H1238.6"/>
<path d="M1255.6 251.3 H1246.6"/>
<path d="M1255.6 297.0 H1238.6"/>
<path d="M1255.6 342.6 H1246.6"/>
<path d="M1255.6 388.3 H1238.6"/>
</g>
<g font-family="Liberation Serif" font-size="52.3" fill="#000">
<text transform="translate(162.3 36.7) scale(0.958 1)" text-anchor="end">40</text>
<text transform="translate(162.3 128.0) scale(0.958 1)" text-anchor="end">0</text>
<text transform="translate(162.3 219.3) scale(0.958 1)" text-anchor="end">-40</text>
<text transform="translate(162.3 310.7) scale(0.958 1)" text-anchor="end">-80</text>
<text transform="translate(162.3 402.0) scale(0.958 1)" text-anchor="end">-120</text>
<text transform="translate(181.0 445.3) scale(0.958 1)" text-anchor="middle">0</text>
<text transform="translate(315.2 445.3) scale(0.958 1)" text-anchor="middle">50</text>
<text transform="translate(449.5 445.3) scale(0.958 1)" text-anchor="middle">100</text>
<text transform="translate(583.7 445.3) scale(0.958 1)" text-anchor="middle">150</text>
<text transform="translate(718.0 445.3) scale(0.958 1)" text-anchor="middle">200</text>
<text transform="translate(852.2 445.3) scale(0.958 1)" text-anchor="middle">250</text>
<text transform="translate(986.4 445.3) scale(0.958 1)" text-anchor="middle">300</text>
<text transform="translate(1120.7 445.3) scale(0.958 1)" text-anchor="middle">350</text>
<text transform="translate(1254.9 445.3) scale(0.958 1)" text-anchor="middle">400</text>
</g>
<g font-family="Liberation Serif" font-size="52.3" fill="#3b55a6">
<text transform="translate(1273.5 36.7) scale(0.958 1)">20</text>
<text transform="translate(1273.5 128.0) scale(0.958 1)">0</text>
<text transform="translate(1273.5 219.3) scale(0.958 1)">-20</text>
<text transform="translate(1273.5 310.7) scale(0.958 1)">-40</text>
<text transform="translate(1273.5 402.0) scale(0.958 1)">-60</text>
</g>
<defs><clipPath id="c1"><rect x="180.6" y="510.4" width="1075.0" height="365.3"/></clipPath></defs>
<g clip-path="url(#c1)">
<path d="M182.0 604.5 L183.3 605.3 L184.6 612.1 L185.9 605.0 L187.2 602.5 L188.5 607.0 L189.8 606.6 L191.1 608.0 L192.4 605.2 L193.7 610.1 L195.0 607.8 L196.3 612.9 L197.6 607.7 L198.9 606.8 L200.1 609.9 L201.4 608.4 L202.7 604.1 L204.0 608.2 L205.3 604.3 L206.6 609.3 L207.9 604.5 L209.2 607.0 L210.5 603.9 L211.8 606.9 L213.1 609.6 L214.4 609.0 L215.7 604.2 L217.0 602.4 L218.3 607.8 L219.6 604.1 L220.9 603.8 L222.2 607.7 L223.5 602.6 L224.8 607.9 L226.1 608.6 L227.4 605.8 L228.6 603.4 L229.9 605.1 L231.2 609.7 L232.5 606.2 L233.8 609.0 L235.1 605.8 L236.4 606.0 L237.7 606.1 L239.0 606.0 L240.3 606.4 L241.6 607.8 L242.9 608.7 L244.2 605.1 L245.5 603.0 L246.8 603.7 L248.1 603.0 L249.4 600.1 L250.7 605.4 L252.0 603.4 L253.3 610.2 L254.6 603.9 L255.9 601.6 L257.1 606.4 L258.4 605.3 L259.7 607.6 L261.0 605.7 L262.3 610.2 L263.6 603.4 L264.9 605.9 L266.2 604.1 L267.5 603.9 L268.8 600.8 L270.1 606.8 L271.4 600.8 L272.7 606.2 L274.0 606.4 L275.3 606.3 L276.6 601.1 L277.8 607.4 L279.1 603.4 L280.4 606.3 L281.7 604.3 L283.0 610.5 L284.3 603.8 L285.6 604.8 L286.9 606.1 L288.2 601.5 L289.4 604.1 L290.7 604.8 L292.0 606.1 L293.3 604.5 L294.6 610.2 L295.9 610.6 L297.2 608.7 L298.5 605.5 L299.8 607.2 L301.0 611.1 L302.3 610.2 L303.6 607.4 L304.9 604.2 L306.2 608.7 L307.5 607.7 L308.8 605.9 L310.1 605.3 L311.4 602.2 L312.6 601.8 L313.9 602.4 L315.2 606.5 L316.5 606.3 L317.8 603.9 L319.1 605.2 L320.4 609.5 L321.7 602.7 L322.9 604.7 L324.2 602.7 L325.5 611.1 L326.8 604.9 L328.1 609.7 L329.4 607.9 L330.7 604.3 L332.0 607.6 L333.3 606.5 L334.5 607.3 L335.8 606.5 L337.1 607.7 L338.4 607.6 L339.7 604.1 L341.0 608.1 L342.3 604.0 L343.6 602.7 L344.9 605.1 L346.1 603.8 L347.4 604.4 L348.7 603.3 L350.0 608.4 L351.3 608.5 L352.6 604.5 L353.9 609.7 L355.2 606.0 L356.5 604.3 L357.7 603.6 L359.0 607.4 L360.3 606.0 L361.6 607.0 L362.9 614.1 L364.2 608.7 L365.4 605.9 L366.7 603.1 L368.0 604.8 L369.2 603.9 L370.5 604.0 L371.8 599.2 L373.0 605.7 L374.3 602.3 L375.6 610.9 L376.8 604.3 L378.1 607.3 L379.4 605.6 L380.6 602.5 L381.9 605.0 L383.2 603.2 L384.4 603.2 L385.7 603.9 L386.9 599.3 L388.2 608.5 L389.4 606.8 L390.7 605.3 L391.9 609.8 L393.2 603.9 L394.4 600.3 L395.7 608.0 L396.9 605.5 L398.2 608.0 L399.4 607.1 L400.7 607.8 L402.0 605.7 L403.3 608.0 L404.5 609.9 L405.8 608.8 L407.1 612.3 L408.4 609.2 L409.7 608.5 L411.0 607.8 L412.3 608.6 L413.6 606.6 L414.9 603.4 L416.1 603.9 L417.4 601.8 L418.7 605.8 L420.0 606.5 L421.2 607.7 L422.5 609.7 L423.8 605.7 L425.0 601.5 L426.2 605.6 L427.5 607.6 L428.8 602.8 L430.0 604.8 L431.2 605.4 L432.5 613.8 L433.8 611.6 L435.0 607.1 L436.2 608.0 L437.5 609.7 L438.8 610.3 L440.0 610.5 L441.2 604.7 L442.4 603.0 L443.6 606.9 L444.8 601.1 L446.0 600.8" fill="none" stroke="#3b55a6" stroke-width="2.9" stroke-dasharray="6.5 10.5" stroke-linecap="round" stroke-linejoin="round"/>
<path d="M446.0 600.8 L447.2 596.7 L448.4 595.0 L449.6 592.9 L450.8 589.7 L452.0 590.2 L453.2 590.7 L454.4 590.3 L455.6 591.9 L456.8 595.7 L458.0 592.2 L459.2 596.7 L460.4 598.4 L461.6 600.5 L462.8 601.4 L464.0 598.5 L465.3 602.3 L466.6 601.1 L467.9 604.1 L469.1 603.7 L470.4 605.9 L471.7 603.9 L473.0 606.3 L474.3 607.8 L475.6 608.7 L476.9 610.2 L478.1 612.8 L479.4 608.6 L480.7 611.3 L482.0 609.0 L483.2 613.4 L484.5 615.4 L485.8 613.1 L487.0 615.2 L488.2 617.0 L489.5 614.3 L490.8 615.4 L492.0 615.7 L493.2 611.4 L494.4 609.4 L495.6 609.7 L496.8 607.6 L498.0 609.1 L499.2 604.8 L500.5 606.0 L501.8 607.3 L503.0 611.9 L504.2 611.9 L505.5 612.9 L506.8 613.4 L508.0 614.1 L509.2 616.1 L510.4 620.5 L511.6 622.4 L512.8 625.9 L514.0 627.8 L515.2 633.1 L516.5 638.0 L517.8 645.7 L519.0 650.7 L520.0 657.5 L521.0 661.5 L522.0 672.8 L523.0 678.8 L524.0 682.6 L525.0 685.0 L526.0 691.6 L527.0 699.1 L528.0 699.1 L529.0 701.0 L530.2 701.0 L531.5 700.8 L532.8 697.8 L534.0 694.4 L535.2 689.1 L536.5 688.2 L537.8 681.7 L539.0 681.2 L540.0 672.5 L541.0 662.5 L542.0 653.0 L543.0 643.8 L544.2 635.1 L545.5 626.0 L546.8 617.2 L548.0 608.7 L549.0 603.0 L550.0 594.4 L551.0 583.0 L552.0 574.7 L553.0 567.6 L554.0 562.2 L555.0 557.8 L556.0 551.3 L557.0 547.3 L558.0 542.9 L559.0 539.1 L560.0 539.7 L561.0 544.3 L562.0 543.7 L563.0 552.3 L564.0 558.4 L565.0 564.6 L566.0 567.0 L567.0 576.2 L568.0 578.9 L569.0 582.7 L570.0 592.5 L571.0 599.2 L572.0 603.8 L573.2 605.2 L574.4 603.4 L575.6 602.3 L576.8 599.5 L578.0 601.0 L579.0 598.1 L580.0 595.7 L581.0 592.4 L582.0 591.0 L583.2 591.3 L584.5 589.1 L585.8 590.2 L587.0 592.6 L588.2 590.5 L589.5 590.4 L590.8 589.7 L592.0 591.1 L593.0 584.3 L594.0 576.3 L595.2 579.0 L596.4 584.1 L597.6 588.0 L598.8 590.2 L600.0 594.7 L601.2 598.3 L602.4 602.3 L603.6 605.0 L604.8 607.6 L606.0 612.2 L607.2 616.3 L608.4 621.6 L609.6 628.3 L610.8 632.3 L612.0 636.1 L613.0 638.5 L614.0 640.8 L615.0 642.6 L616.0 643.5 L617.0 639.0 L618.0 632.2 L619.0 630.6 L620.0 628.6 L621.0 619.5 L622.0 617.0 L623.0 608.4 L624.0 603.4 L625.2 598.0 L626.5 587.7 L627.8 580.8 L629.0 575.5 L630.0 568.5 L631.0 564.5 L632.0 561.5 L633.0 551.7 L634.0 549.6 L635.0 545.4 L636.0 547.2 L637.0 551.3 L638.0 556.8 L639.0 560.9 L640.0 567.0 L641.0 568.3 L642.0 575.0 L643.0 581.4 L644.0 588.8 L645.0 595.6 L646.0 605.1 L647.0 614.2 L648.0 621.6 L649.0 629.6 L650.2 639.1 L651.5 645.9 L652.8 653.3 L654.0 660.6 L655.2 660.9 L656.4 663.2 L657.6 667.6 L658.8 667.2 L660.0 668.5 L661.0 662.0 L662.0 657.4 L663.0 652.6 L664.0 644.1 L665.0 633.1 L666.0 627.7 L667.0 619.2 L668.0 611.2 L669.0 600.4 L670.0 589.8 L671.0 582.1 L672.0 577.7 L673.0 567.1 L674.0 561.5 L675.2 557.4 L676.4 557.0 L677.6 554.3 L678.8 549.9 L680.0 547.3 L681.0 546.3 L682.0 544.7 L683.0 547.0 L684.0 549.7 L685.2 551.2 L686.5 557.7 L687.8 559.4 L689.0 566.8 L690.2 572.3 L691.5 575.4 L692.8 577.2 L694.0 584.2 L695.0 588.4 L696.0 596.3 L697.0 600.9 L698.0 605.9 L699.0 613.4 L700.0 618.6 L701.0 626.7 L702.0 635.0 L703.2 638.0 L704.5 643.5 L705.8 645.5 L707.0 651.2 L708.0 647.9 L709.0 649.9 L710.0 651.4 L711.0 650.3 L712.0 648.0 L713.0 642.5 L714.0 638.4 L715.0 633.7 L716.2 628.5 L717.5 623.2 L718.8 615.6 L720.0 611.0 L721.2 600.0 L722.5 593.1 L723.8 584.7 L725.0 578.8 L726.2 575.4 L727.4 571.5 L728.6 569.9 L729.8 566.8 L731.0 562.3 L732.2 569.0 L733.4 570.5 L734.6 574.8 L735.8 578.5 L737.0 583.1 L738.0 588.4 L739.0 595.6 L740.0 600.3 L741.0 605.8 L742.0 611.9 L743.0 616.1 L744.2 618.5 L745.5 620.5 L746.8 624.6 L748.0 629.7 L749.2 630.0 L750.4 630.6 L751.6 633.0 L752.8 633.4 L754.0 631.5 L755.0 629.1 L756.0 621.8 L757.0 618.4 L758.0 611.1 L759.0 607.0 L760.0 600.9 L761.0 597.8 L762.0 594.8 L763.2 591.1 L764.5 589.0 L765.8 584.4 L767.0 582.2 L768.0 579.8 L769.0 577.3 L770.0 575.6 L771.0 571.6 L772.0 578.1 L773.0 581.3 L774.0 581.0 L775.0 586.3 L776.0 594.6 L777.0 599.8 L778.0 603.1 L779.0 610.8 L780.0 610.6 L781.0 615.7 L782.0 619.8 L783.1 619.9 L784.3 621.5 L785.4 625.5 L786.6 627.3 L787.7 631.9 L788.9 631.6 L790.0 637.4 L791.2 636.6 L792.5 631.0 L793.8 628.1 L795.0 626.8 L796.2 621.7 L797.5 615.9 L798.8 610.7 L800.0 610.4 L801.0 598.9 L802.0 592.2 L803.0 584.8 L804.0 577.1 L805.0 570.2 L806.0 561.9 L807.0 557.1 L808.0 550.8 L809.2 545.1 L810.5 544.4 L811.8 537.8 L813.0 537.1 L814.2 537.7 L815.5 540.1 L816.8 544.6 L818.0 544.1 L819.0 552.5 L820.0 559.2 L821.0 562.4 L822.0 571.3 L823.0 580.3 L824.0 585.4 L825.0 593.5 L826.0 601.8 L827.0 608.9 L828.0 615.9 L829.0 619.3 L830.0 628.7 L831.0 633.0 L832.0 637.7 L833.0 642.3 L834.0 647.8 L835.0 649.4 L836.0 651.3 L837.2 652.3 L838.5 651.3 L839.8 650.3 L841.0 646.6 L842.0 640.1 L843.0 633.0 L844.0 628.1 L845.0 624.8 L846.0 619.6 L847.0 614.7 L848.0 606.1 L849.0 602.6 L850.0 596.0 L851.0 591.4 L852.0 586.4 L853.0 582.6 L854.0 575.5 L855.0 575.6 L856.0 569.3 L857.2 568.8 L858.5 563.6 L859.8 564.4 L861.0 562.3 L862.2 568.5 L863.5 567.6 L864.8 573.6 L866.0 576.2 L867.2 579.5 L868.5 586.6 L869.8 588.4 L871.0 592.4 L872.0 596.2 L873.0 599.6 L874.0 603.6 L875.0 606.9 L876.0 614.6 L877.0 619.1 L878.0 622.7 L879.3 624.5 L880.6 621.5 L881.9 619.3 L883.1 620.2 L884.4 619.7 L885.7 616.2 L887.0 617.7 L888.3 616.5 L889.6 613.5 L890.9 613.4 L892.1 612.2 L893.4 607.2 L894.7 608.5 L896.0 605.1 L897.1 603.2 L898.3 603.5 L899.4 600.9 L900.6 600.5 L901.7 598.0 L902.9 595.8 L904.0 596.2 L905.2 592.6 L906.4 590.2 L907.6 586.6 L908.8 585.1 L910.0 581.8 L911.2 582.3 L912.5 579.2 L913.8 579.5 L915.0 576.8 L916.2 573.9 L917.3 576.1 L918.5 573.7 L919.7 572.8 L920.8 572.7 L922.0 568.3 L923.0 571.5 L924.0 574.1 L925.0 577.2 L926.2 582.6 L927.3 580.6 L928.5 582.3 L929.7 582.4 L930.8 584.7 L932.0 585.6 L933.2 589.9 L934.4 589.3 L935.6 593.2 L936.8 593.4 L938.0 595.8 L939.1 596.2 L940.3 599.0 L941.4 599.1 L942.6 601.6 L943.7 601.8 L944.9 602.0 L946.0 602.6 L947.2 606.7 L948.4 606.2 L949.6 610.6 L950.8 609.0 L952.0 614.6 L953.0 616.2 L954.0 617.8 L955.0 620.7 L956.0 620.0 L957.1 623.3 L958.3 626.6 L959.4 629.4 L960.6 630.0 L961.7 632.2 L962.9 633.9 L964.0 637.0 L965.2 633.9 L966.4 631.2 L967.6 634.9 L968.8 633.3 L970.0 630.0 L971.2 628.1 L972.5 625.5 L973.7 622.0 L975.0 615.0 L976.2 612.8 L977.4 606.4 L978.7 605.4 L979.9 602.5 L981.2 596.7 L982.4 592.9 L983.6 594.6 L984.9 590.7 L986.1 589.4 L987.4 583.4 L988.6 580.2 L989.8 584.2 L991.0 581.9 L992.2 580.3 L993.5 583.0 L994.7 584.5 L995.9 584.8 L996.9 584.8 L998.0 592.1 L999.0 592.7 L1000.1 602.1 L1001.1 601.1 L1002.1 606.0 L1003.2 611.3 L1004.2 614.6 L1005.2 620.9 L1006.2 623.7 L1007.3 630.3 L1008.4 635.4 L1009.4 640.6 L1010.7 642.1 L1012.0 649.7 L1013.2 649.8 L1014.5 653.3 L1015.5 656.7 L1016.6 659.8 L1017.6 658.5 L1018.7 664.0 L1019.7 668.5 L1020.7 664.0 L1021.8 660.7 L1022.8 658.3 L1023.9 654.3 L1024.9 648.6 L1025.9 642.5 L1027.0 638.0 L1028.0 628.4 L1029.0 624.2 L1030.1 619.2 L1031.1 608.6 L1032.1 603.6 L1033.2 591.6 L1034.2 588.0 L1035.3 582.1 L1036.3 576.0 L1037.3 573.5 L1038.4 574.7 L1039.4 571.9 L1040.5 570.3 L1041.5 569.5 L1042.5 573.1 L1043.5 573.6 L1044.6 577.4 L1045.6 579.5 L1046.6 585.1 L1047.7 587.4 L1048.7 589.2 L1049.7 594.5 L1050.8 597.9 L1051.8 604.5 L1052.9 608.3 L1053.9 613.7 L1055.2 618.1 L1056.5 621.4 L1057.8 627.3 L1059.1 631.9 L1060.3 632.6 L1061.5 633.3 L1062.7 633.5 L1063.9 632.3 L1065.1 632.8 L1066.3 636.0 L1067.3 634.8 L1068.4 631.2 L1069.4 626.4 L1070.5 624.7 L1071.5 621.3 L1072.5 616.2 L1073.6 613.9 L1074.6 609.1 L1075.7 608.3 L1076.7 607.4 L1077.7 600.0 L1078.8 593.6 L1079.8 591.2 L1080.8 587.6 L1081.8 582.7 L1082.9 582.6 L1083.9 579.7 L1085.0 576.7 L1086.0 574.5 L1087.2 578.1 L1088.4 580.5 L1089.6 575.0 L1090.7 580.2 L1091.9 582.7 L1093.1 580.9 L1094.3 583.4 L1095.3 587.6 L1096.4 590.8 L1097.4 593.3 L1098.5 594.0 L1099.5 598.7 L1100.7 601.3 L1101.8 603.4 L1103.0 602.2 L1104.2 607.7 L1105.4 606.8 L1106.5 611.7 L1107.7 609.2 L1108.9 607.0 L1110.1 607.5 L1111.3 607.0 L1112.6 603.2 L1113.8 602.6 L1115.0 598.2 L1116.0 595.8 L1117.0 593.8 L1118.1 591.3 L1119.1 590.1 L1120.1 587.7 L1121.2 585.7 L1122.2 584.7 L1123.3 581.8 L1124.3 583.8 L1125.3 583.4 L1126.4 585.4 L1127.4 591.9 L1128.5 589.5 L1129.5 593.4 L1130.7 596.4 L1132.0 599.0 L1133.2 602.9 L1134.5 607.9 L1135.7 613.4 L1136.9 616.1 L1138.2 617.7 L1139.4 624.0 L1140.7 625.7 L1141.9 628.7 L1143.2 629.7 L1144.5 632.6 L1145.8 630.2 L1147.1 632.4 L1148.1 630.6 L1149.2 627.9 L1150.2 621.5 L1151.3 620.2 L1152.3 616.7 L1153.3 613.0 L1154.3 607.8 L1155.4 602.9 L1156.4 596.9 L1157.5 591.5 L1158.5 587.8 L1159.5 583.8 L1160.6 579.5 L1161.8 575.4 L1163.1 570.8 L1164.3 567.8 L1165.6 563.4 L1166.8 564.4 L1168.0 563.3 L1169.3 565.9 L1170.5 567.3 L1171.8 569.1 L1173.0 569.8 L1174.0 571.0 L1175.1 574.9 L1176.1 572.6 L1177.2 577.6 L1178.2 579.0 L1179.2 583.3 L1180.2 589.1 L1181.3 591.2 L1182.3 596.2 L1183.3 599.4 L1184.3 604.9 L1185.4 608.5 L1186.4 614.1 L1187.7 617.9 L1188.9 618.9 L1190.2 620.7 L1191.4 626.5 L1192.7 628.2 L1194.0 629.7 L1195.2 630.5 L1196.5 631.6 L1197.8 629.6 L1198.8 627.4 L1199.9 621.9 L1201.0 617.8 L1202.0 612.9 L1203.2 610.0 L1204.5 602.2 L1205.7 597.4 L1207.0 589.1 L1208.2 587.2 L1209.2 581.2 L1210.3 580.5 L1211.3 576.7 L1212.4 575.6 L1213.4 571.7 L1214.7 570.4 L1216.0 568.2 L1217.3 562.7 L1218.6 563.6 L1219.9 567.1 L1221.2 570.2 L1222.4 572.1 L1223.7 573.8 L1224.8 581.0 L1225.8 586.1 L1226.9 591.3 L1227.9 592.7 L1228.9 598.5 L1230.0 602.8 L1231.0 606.5 L1232.0 609.0 L1233.2 612.3 L1234.5 614.9 L1235.7 619.5 L1237.0 622.6 L1238.2 627.7 L1239.2 627.5 L1240.3 630.1 L1241.3 623.4 L1242.4 624.2 L1243.4 622.6 L1244.7 618.2 L1246.0 614.7 L1247.3 612.8 L1248.6 611.9 L1249.7 609.0 L1250.8 605.2 L1251.9 604.6 L1253.0 601.1" fill="none" stroke="#3b55a6" stroke-width="2.9" stroke-dasharray="8.3 9.7" stroke-linecap="round" stroke-linejoin="round"/>
<path d="M182.0 594.9 L183.4 594.2 L184.8 594.9 L186.2 593.7 L187.6 593.7 L188.9 591.4 L190.3 591.2 L191.7 594.2 L193.1 590.8 L194.5 594.6 L195.9 593.1 L197.3 593.2 L198.7 592.1 L200.0 593.0 L201.4 592.7 L202.8 593.5 L204.2 593.4 L205.6 592.8 L207.0 593.4 L208.4 594.8 L209.8 593.6 L211.1 594.6 L212.5 593.7 L213.9 591.5 L215.3 595.6 L216.7 594.1 L218.1 595.6 L219.5 594.7 L220.8 592.1 L222.2 594.7 L223.6 593.9 L225.0 591.1 L226.4 593.2 L227.8 592.6 L229.2 595.3 L230.6 594.8 L231.9 590.6 L233.3 593.0 L234.7 594.4 L236.1 593.0 L237.5 591.7 L238.9 595.0 L240.3 590.3 L241.7 595.6 L243.0 595.2 L244.4 593.8 L245.8 595.7 L247.2 590.7 L248.6 592.6 L250.0 593.7 L251.4 592.6 L252.8 593.0 L254.1 593.2 L255.5 592.4 L256.9 594.4 L258.3 595.6 L259.7 593.9 L261.1 592.0 L262.4 592.1 L263.8 592.6 L265.2 593.5 L266.6 593.7 L268.0 591.6 L269.4 595.9 L270.8 591.1 L272.1 593.5 L273.5 594.1 L274.9 593.6 L276.3 593.5 L277.7 592.0 L279.1 594.8 L280.5 593.7 L281.8 592.0 L283.2 593.8 L284.6 594.7 L286.0 592.7 L287.4 594.1 L288.8 592.2 L290.1 597.6 L291.5 592.3 L292.9 595.2 L294.3 596.1 L295.7 594.8 L297.0 594.7 L298.4 595.1 L299.8 592.9 L301.1 594.1 L302.5 594.1 L303.9 597.1 L305.3 593.9 L306.6 595.6 L308.0 594.0 L309.4 593.6 L310.7 596.6 L312.1 596.4 L313.5 595.2 L314.9 595.1 L316.2 595.5 L317.6 594.8 L319.0 593.7 L320.3 597.1 L321.7 594.7 L323.1 593.3 L324.4 593.9 L325.8 595.6 L327.2 599.3 L328.6 598.8 L329.9 596.6 L331.3 594.0 L332.7 595.7 L334.1 594.8 L335.4 596.0 L336.8 597.3 L338.2 597.9 L339.6 596.0 L340.9 596.0 L342.3 597.8 L343.7 595.1 L345.0 598.1 L346.4 597.7 L347.8 598.8 L349.2 596.4 L350.5 599.3 L351.9 599.6 L353.3 596.1 L354.7 597.8 L356.0 595.2 L357.4 599.3 L358.8 602.1 L360.2 599.4 L361.5 598.9 L362.9 598.0 L364.3 600.5 L365.6 600.8 L367.0 600.1 L368.4 599.1 L369.8 601.1 L371.1 602.0 L372.5 604.0 L373.9 604.1 L375.2 604.5 L376.6 604.8 L378.0 605.5 L379.3 605.1 L380.7 602.8 L382.1 605.0 L383.5 607.6 L384.8 606.9 L386.2 606.7 L387.6 608.6 L388.9 608.1 L390.3 608.6 L391.6 609.7 L392.9 611.0 L394.2 611.3 L395.5 610.2 L396.8 610.9 L398.1 610.1 L399.4 612.5 L400.7 612.9 L402.0 615.0 L403.3 618.7 L404.7 617.5 L406.0 620.7 L407.3 620.6 L408.6 622.7 L409.9 621.8 L411.2 622.7 L412.5 625.5 L413.8 625.4 L415.1 627.2 L416.4 626.9 L417.7 623.1 L419.1 625.4 L420.4 627.6 L421.8 627.8 L423.2 626.3 L424.5 624.7 L425.9 623.6 L427.3 625.9 L428.7 626.3 L430.0 625.9 L431.4 627.3 L432.6 623.4 L433.9 626.1 L435.1 626.4 L436.3 625.9 L437.5 625.6 L438.8 627.9 L440.0 630.0 L441.3 627.2 L442.7 625.4 L444.0 626.6 L445.3 623.7 L446.7 624.7 L448.0 620.3 L449.4 620.0 L450.8 623.2 L452.2 623.3 L453.6 619.8 L455.0 620.9 L456.4 621.5 L457.8 618.5 L459.2 619.0 L460.6 619.4 L462.0 619.3 L463.4 620.3 L464.8 621.3 L466.2 623.0 L467.6 627.9 L469.0 626.2 L470.4 625.0 L471.8 632.5 L473.2 629.6 L474.6 629.5 L476.0 629.2 L477.4 629.6 L478.8 629.0 L480.1 625.1 L481.5 624.2 L482.9 621.8 L484.2 624.7 L485.6 620.1 L487.0 620.7 L488.2 623.1 L489.4 624.3 L490.6 630.3 L491.8 633.4 L493.0 633.8 L494.3 643.1 L495.7 650.5 L497.0 655.1 L498.0 665.0 L499.0 673.4 L500.0 681.2 L501.0 688.4 L502.0 700.2 L503.0 710.3 L504.2 715.1 L505.5 722.2 L506.8 727.1 L508.0 735.8 L509.2 737.8 L510.4 739.6 L511.6 746.4 L512.8 747.5 L514.0 752.7 L515.2 753.4 L516.4 751.7 L517.6 756.5 L518.8 752.8 L520.0 754.4 L521.2 756.0 L522.5 752.1 L523.8 754.1 L525.0 755.8 L526.2 759.1 L527.5 763.8 L528.8 767.6 L530.0 771.8 L531.2 779.0 L532.4 781.5 L533.6 785.2 L534.8 792.2 L536.0 796.3 L537.3 797.8 L538.7 799.6 L540.0 800.9 L541.2 798.8 L542.5 799.3 L543.8 797.8 L545.0 796.1 L546.2 791.0 L547.5 789.0 L548.8 778.9 L550.0 774.9 L551.2 771.5 L552.4 767.3 L553.6 763.2 L554.8 761.0 L556.0 756.6 L557.2 752.9 L558.4 752.4 L559.6 746.7 L560.8 743.3 L562.0 739.2 L563.2 736.2 L564.4 733.6 L565.6 727.8 L566.8 725.6 L568.0 721.7 L569.2 719.2 L570.5 721.3 L571.8 719.0 L573.0 718.7 L574.2 716.6 L575.5 716.3 L576.8 714.5 L578.0 714.1 L579.2 711.8 L580.5 705.8 L581.8 705.9 L583.0 702.8 L584.3 697.1 L585.7 690.0 L587.0 686.1 L588.2 683.3 L589.5 679.1 L590.8 671.8 L592.0 669.2 L593.2 670.2 L594.4 666.1 L595.6 664.4 L596.8 664.5 L598.0 660.7 L599.4 659.7 L600.8 657.5 L602.2 656.2 L603.6 655.6 L605.0 655.7 L606.4 656.4 L607.8 660.8 L609.2 660.6 L610.6 661.6 L612.0 664.7 L613.3 665.6 L614.7 665.6 L616.0 667.1 L617.3 669.7 L618.7 674.2 L620.0 673.2 L621.3 672.9 L622.6 672.2 L623.9 669.3 L625.1 669.8 L626.4 665.7 L627.7 664.0 L629.0 667.9 L630.2 663.4 L631.5 659.1 L632.8 656.5 L634.0 655.3 L635.3 653.8 L636.7 651.1 L638.0 649.0 L639.3 645.1 L640.7 645.9 L642.0 644.1 L643.3 648.0 L644.7 643.8 L646.0 645.7 L647.3 643.5 L648.7 644.7 L650.0 643.3 L651.2 642.2 L652.4 638.0 L653.6 638.2 L654.8 636.5 L656.0 633.7 L657.2 632.0 L658.5 629.1 L659.8 625.9 L661.0 626.9 L662.2 622.0 L663.5 619.8 L664.8 618.5 L666.0 612.7 L667.4 608.9 L668.8 605.7 L670.2 599.6 L671.6 595.7 L673.0 590.5 L674.3 589.7 L675.6 590.2 L676.9 591.6 L678.1 589.8 L679.4 589.0 L680.7 590.4 L682.0 589.6 L683.3 594.0 L684.7 598.0 L686.0 598.4 L687.3 602.6 L688.7 601.6 L690.0 603.5 L691.2 604.3 L692.4 605.6 L693.6 605.6 L694.8 603.5 L696.0 605.8 L697.2 603.3 L698.4 597.1 L699.6 596.3 L700.8 592.8 L702.0 590.8 L703.3 589.4 L704.7 588.0 L706.0 587.7 L707.3 587.3 L708.7 583.3 L710.0 581.8 L711.2 581.3 L712.4 581.5 L713.6 579.8 L714.8 579.6 L716.0 580.9 L717.2 581.2 L718.4 581.6 L719.6 583.2 L720.8 584.6 L722.0 586.0 L723.3 587.1 L724.7 590.3 L726.0 591.1 L727.3 593.9 L728.7 596.0 L730.0 598.0 L731.3 597.4 L732.7 596.4 L734.0 596.2 L735.3 595.3 L736.7 593.2 L738.0 592.8 L739.3 593.1 L740.7 593.9 L742.0 593.4 L743.3 592.4 L744.7 594.5 L746.0 593.5 L747.3 594.1 L748.7 595.4 L750.0 594.5 L751.2 596.4 L752.5 594.1 L753.8 594.1 L755.0 591.9 L756.2 594.1 L757.5 591.9 L758.8 591.5 L760.0 591.3 L761.3 590.7 L762.7 589.4 L764.0 592.2 L765.3 591.0 L766.7 594.0 L768.0 591.7 L769.3 590.7 L770.7 592.0 L772.0 592.6 L773.2 592.9 L774.5 588.2 L775.8 589.6 L777.0 589.7 L778.2 589.6 L779.5 587.1 L780.8 586.7 L782.0 587.8 L783.4 586.4 L784.8 587.3 L786.2 585.5 L787.6 588.5 L789.0 588.6 L790.4 586.0 L791.8 587.6 L793.2 586.7 L794.6 587.9 L796.0 586.2 L797.3 587.0 L798.7 588.4 L800.0 589.1 L801.3 591.3 L802.7 591.9 L804.0 594.1 L805.3 594.8 L806.7 595.3 L808.0 598.4 L809.3 599.9 L810.7 597.9 L812.0 600.3 L813.2 598.8 L814.5 596.5 L815.8 598.3 L817.0 594.0 L818.2 593.8 L819.5 595.3 L820.8 592.1 L822.0 591.1 L823.3 590.9 L824.7 587.8 L826.0 589.0 L827.3 587.8 L828.7 590.5 L830.0 588.1 L831.2 588.9 L832.5 589.0 L833.8 590.0 L835.0 589.4 L836.2 588.7 L837.5 588.8 L838.8 592.4 L840.0 591.9 L841.3 592.8 L842.7 593.4 L844.0 595.4 L845.3 596.0 L846.7 597.9 L848.0 597.5 L849.3 598.7 L850.7 596.7 L852.0 594.6 L853.3 592.1 L854.7 591.9 L856.0 590.0 L857.3 590.4 L858.7 588.1 L860.0 589.1 L861.3 589.7 L862.7 590.1 L864.0 592.9 L865.3 593.4 L866.7 594.3 L868.0 595.5 L869.2 595.4 L870.4 597.0 L871.6 598.9 L872.8 600.0 L874.0 599.7 L875.2 595.9 L876.5 596.4 L877.8 597.0 L879.0 593.5 L880.2 596.0 L881.5 595.5 L882.8 596.4 L884.0 593.5 L885.2 593.5 L886.5 593.7 L887.8 592.0 L889.0 590.1 L890.2 587.2 L891.5 587.6 L892.8 587.5 L894.0 584.0 L895.3 587.6 L896.7 585.6 L898.0 585.7 L899.3 586.0 L900.7 588.2 L902.0 586.7 L903.3 586.6 L904.7 586.3 L906.0 585.0 L907.3 584.6 L908.7 583.2 L910.0 583.0 L911.3 584.1 L912.7 583.2 L914.0 582.1 L915.3 583.0 L916.7 585.2 L918.0 586.2 L919.3 587.4 L920.7 588.0 L922.0 591.8 L923.3 593.2 L924.7 593.0 L926.0 593.6 L927.3 594.0 L928.7 595.0 L930.0 596.9 L931.2 596.0 L932.5 594.7 L933.8 593.0 L935.0 592.6 L936.2 591.6 L937.5 589.5 L938.8 589.7 L940.0 588.2 L941.2 587.2 L942.5 586.2 L943.8 584.4 L945.0 583.2 L946.2 583.0 L947.5 585.4 L948.8 580.5 L950.0 580.3 L951.2 583.0 L952.5 582.5 L953.8 583.3 L955.0 584.8 L956.2 587.2 L957.5 586.1 L958.8 585.7 L960.0 585.0 L961.3 586.0 L962.7 587.7 L964.0 588.6 L965.3 589.1 L966.7 588.1 L968.0 589.9 L969.3 590.3 L970.7 588.5 L972.0 592.8 L973.4 592.2 L974.8 593.5 L976.2 595.3 L977.6 597.8 L979.0 597.7 L980.4 599.2 L981.7 599.4 L982.9 600.8 L984.2 603.6 L985.4 602.7 L986.7 604.7 L987.9 604.1 L989.2 603.9 L990.4 604.0 L991.7 604.1 L993.0 604.2 L994.3 605.0 L995.6 600.4 L996.9 597.4 L998.2 595.6 L999.5 596.3 L1000.8 597.4 L1002.1 594.0 L1003.4 596.3 L1004.7 594.8 L1006.0 595.3 L1007.3 596.3 L1008.7 592.7 L1010.1 591.4 L1011.4 594.3 L1012.8 596.1 L1014.2 596.2 L1015.6 595.7 L1016.9 596.1 L1018.3 595.1 L1019.7 596.6 L1021.1 594.5 L1022.5 592.9 L1023.8 592.1 L1025.2 593.1 L1026.6 591.5 L1028.0 589.7 L1029.3 588.8 L1030.7 590.8 L1032.1 587.2 L1033.5 588.2 L1034.9 591.8 L1036.2 591.0 L1037.6 591.6 L1039.0 595.6 L1040.4 594.6 L1041.8 597.0 L1043.2 597.0 L1044.6 596.0 L1045.9 599.8 L1047.3 598.4 L1048.7 598.2 L1050.1 597.4 L1051.5 596.6 L1052.8 595.5 L1054.2 596.4 L1055.6 593.3 L1057.0 595.7 L1058.3 591.6 L1059.7 592.0 L1061.1 592.0 L1062.4 591.5 L1063.7 589.7 L1065.1 590.5 L1066.4 592.9 L1067.7 590.7 L1069.0 589.5 L1070.3 589.1 L1071.6 589.3 L1073.0 587.6 L1074.3 587.6 L1075.6 588.3 L1076.9 590.3 L1078.2 589.4 L1079.5 587.9 L1080.8 587.9 L1082.1 589.3 L1083.4 586.8 L1084.7 587.7 L1086.0 587.6 L1087.3 587.4 L1088.6 592.6 L1089.9 593.5 L1091.2 596.3 L1092.4 593.1 L1093.7 595.2 L1095.0 595.2 L1096.3 596.4 L1097.6 596.0 L1098.9 597.8 L1100.2 599.8 L1101.5 598.9 L1102.8 600.5 L1104.1 602.1 L1105.4 602.7 L1106.7 602.2 L1108.1 602.1 L1109.5 601.7 L1110.8 598.9 L1112.2 597.1 L1113.6 594.5 L1115.0 597.3 L1116.4 595.3 L1117.8 594.1 L1119.2 592.6 L1120.5 595.3 L1121.9 595.4 L1123.3 594.0 L1124.7 592.8 L1126.1 591.1 L1127.4 590.9 L1128.8 591.5 L1130.2 593.0 L1131.6 593.6 L1132.9 592.0 L1134.3 591.1 L1135.7 591.8 L1137.0 591.0 L1138.3 591.1 L1139.6 592.4 L1140.9 590.8 L1142.2 589.3 L1143.5 588.6 L1144.8 589.4 L1146.1 589.4 L1147.4 592.2 L1148.7 591.7 L1150.0 591.0 L1151.2 593.3 L1152.5 592.6 L1153.8 592.0 L1155.1 594.3 L1156.4 594.8 L1157.8 594.5 L1159.2 596.7 L1160.5 596.9 L1161.9 597.9 L1163.3 602.5 L1164.7 603.5 L1166.0 602.6 L1167.4 601.4 L1168.8 606.4 L1170.1 605.8 L1171.4 604.0 L1172.7 601.4 L1174.0 601.6 L1175.3 601.5 L1176.6 602.4 L1177.9 599.0 L1179.2 597.5 L1180.6 596.9 L1182.0 596.9 L1183.3 593.9 L1184.7 595.5 L1186.1 593.1 L1187.5 593.2 L1188.8 593.5 L1190.2 594.8 L1191.6 591.6 L1193.0 594.6 L1194.4 591.8 L1195.8 595.2 L1197.2 592.9 L1198.5 593.0 L1199.9 594.8 L1201.3 594.8 L1202.7 593.8 L1204.1 594.9 L1205.5 593.7 L1206.9 594.1 L1208.2 590.3 L1209.6 591.3 L1211.0 592.0 L1212.4 591.9 L1213.7 589.9 L1215.1 592.2 L1216.5 590.4 L1217.8 592.6 L1219.1 592.7 L1220.4 592.4 L1221.7 591.8 L1222.9 594.8 L1224.2 595.8 L1225.5 597.7 L1226.8 595.7 L1228.1 597.5 L1229.5 596.6 L1230.8 597.6 L1232.2 598.2 L1233.5 599.2 L1234.9 600.8 L1236.2 600.2 L1237.5 599.6 L1238.9 600.5 L1240.2 598.9 L1241.5 598.1 L1242.8 594.3 L1244.2 595.4 L1245.5 594.7 L1246.8 591.2 L1248.1 595.2 L1249.4 589.2 L1250.7 586.0 L1252.0 587.0" fill="none" stroke="#000" stroke-width="5.5" stroke-linejoin="round" stroke-linecap="round"/>
</g>
<g stroke="#000" stroke-width="6.8" stroke-linecap="round" fill="none">
<path d="M1255.6 510.4 L180.6 510.4 L180.6 875.7 L1255.6 875.7" stroke-linejoin="round"/>
<path d="M180.6 510.4 H197.6"/>
<path d="M180.6 556.0 H189.6"/>
<path d="M180.6 601.7 H197.6"/>
<path d="M180.6 647.3 H189.6"/>
<path d="M180.6 693.0 H197.6"/>
<path d="M180.6 738.7 H189.6"/>
<path d="M180.6 784.3 H197.6"/>
<path d="M180.6 830.0 H189.6"/>
<path d="M180.6 875.7 H197.6"/>
<path d="M181.0 875.7 V858.7"/>
<path d="M248.1 875.7 V867.2"/>
<path d="M315.2 875.7 V858.7"/>
<path d="M382.4 875.7 V867.2"/>
<path d="M449.5 875.7 V858.7"/>
<path d="M516.6 875.7 V867.2"/>
<path d="M583.7 875.7 V858.7"/>
<path d="M650.8 875.7 V867.2"/>
<path d="M718.0 875.7 V858.7"/>
<path d="M785.1 875.7 V867.2"/>
<path d="M852.2 875.7 V858.7"/>
<path d="M919.3 875.7 V867.2"/>
<path d="M986.4 875.7 V858.7"/>
<path d="M1053.5 875.7 V867.2"/>
<path d="M1120.7 875.7 V858.7"/>
<path d="M1187.8 875.7 V867.2"/>
<path d="M1254.9 875.7 V858.7"/>
</g>
<g stroke="#3b55a6" stroke-width="6.8" stroke-linecap="round" fill="none">
<path d="M1255.6 510.4 V875.7"/>
<path d="M1255.6 510.4 H1238.6"/>
<path d="M1255.6 556.0 H1246.6"/>
<path d="M1255.6 601.7 H1238.6"/>
<path d="M1255.6 647.3 H1246.6"/>
<path d="M1255.6 693.0 H1238.6"/>
<path d="M1255.6 738.7 H1246.6"/>
<path d="M1255.6 784.3 H1238.6"/>
<path d="M1255.6 830.0 H1246.6"/>
<path d="M1255.6 875.7 H1238.6"/>
</g>
<g font-family="Liberation Serif" font-size="52.3" fill="#000">
<text transform="translate(162.3 524.1) scale(0.958 1)" text-anchor="end">40</text>
<text transform="translate(162.3 615.4) scale(0.958 1)" text-anchor="end">0</text>
<text transform="translate(162.3 706.7) scale(0.958 1)" text-anchor="end">-40</text>
<text transform="translate(162.3 798.0) scale(0.958 1)" text-anchor="end">-80</text>
<text transform="translate(162.3 889.4) scale(0.958 1)" text-anchor="end">-120</text>
<text transform="translate(181.0 932.7) scale(0.958 1)" text-anchor="middle">0</text>
<text transform="translate(315.2 932.7) scale(0.958 1)" text-anchor="middle">50</text>
<text transform="translate(449.5 932.7) scale(0.958 1)" text-anchor="middle">100</text>
<text transform="translate(583.7 932.7) scale(0.958 1)" text-anchor="middle">150</text>
<text transform="translate(718.0 932.7) scale(0.958 1)" text-anchor="middle">200</text>
<text transform="translate(852.2 932.7) scale(0.958 1)" text-anchor="middle">250</text>
<text transform="translate(986.4 932.7) scale(0.958 1)" text-anchor="middle">300</text>
<text transform="translate(1120.7 932.7) scale(0.958 1)" text-anchor="middle">350</text>
<text transform="translate(1254.9 932.7) scale(0.958 1)" text-anchor="middle">400</text>
</g>
<g font-family="Liberation Serif" font-size="52.3" fill="#3b55a6">
<text transform="translate(1273.5 524.1) scale(0.958 1)">20</text>
<text transform="translate(1273.5 615.4) scale(0.958 1)">0</text>
<text transform="translate(1273.5 706.7) scale(0.958 1)">-20</text>
<text transform="translate(1273.5 798.0) scale(0.958 1)">-40</text>
<text transform="translate(1273.5 889.4) scale(0.958 1)">-60</text>
</g>
<defs><clipPath id="c2"><rect x="180.6" y="996.8" width="1075.0" height="365.3"/></clipPath></defs>
<g clip-path="url(#c2)">
<path d="M182.0 1095.1 L183.2 1096.0 L184.4 1095.2 L185.7 1097.0 L186.9 1091.5 L188.2 1091.9 L189.5 1091.0 L190.8 1091.2 L192.1 1096.5 L193.4 1094.3 L194.7 1091.1 L196.0 1091.2 L197.3 1096.5 L198.6 1090.4 L199.9 1092.0 L201.2 1094.6 L202.5 1096.6 L203.8 1096.7 L205.1 1092.0 L206.4 1090.0 L207.7 1090.4 L209.0 1094.3 L210.3 1093.8 L211.6 1096.4 L212.9 1095.4 L214.2 1096.0 L215.5 1090.5 L216.8 1090.3 L218.1 1093.2 L219.4 1094.3 L220.7 1091.1 L222.0 1096.5 L223.3 1088.8 L224.6 1092.8 L225.9 1090.7 L227.2 1094.1 L228.5 1094.3 L229.8 1092.1 L231.1 1093.9 L232.4 1096.3 L233.7 1091.1 L235.0 1090.9 L236.3 1090.3 L237.6 1091.9 L238.9 1090.2 L240.2 1088.1 L241.5 1094.5 L242.8 1089.5 L244.1 1086.6 L245.4 1094.0 L246.7 1089.3 L248.0 1094.0 L249.3 1095.4 L250.6 1089.8 L251.9 1089.4 L253.2 1095.4 L254.5 1088.0 L255.8 1089.3 L257.1 1090.4 L258.4 1090.4 L259.7 1095.8 L261.0 1092.1 L262.3 1087.7 L263.6 1096.2 L264.9 1094.1 L266.2 1092.0 L267.5 1097.2 L268.8 1094.8 L270.1 1094.4 L271.4 1090.8 L272.7 1092.4 L273.9 1096.5 L275.2 1094.3 L276.5 1091.9 L277.7 1089.0 L279.0 1093.9 L280.3 1093.2 L281.6 1095.4 L282.8 1094.6 L284.1 1095.1 L285.4 1092.9 L286.6 1093.9 L287.9 1091.7 L289.2 1093.8 L290.4 1094.0 L291.7 1094.0 L293.0 1091.0 L294.2 1094.1 L295.5 1092.7 L296.8 1090.4 L298.1 1093.2 L299.3 1094.8 L300.6 1091.9 L301.9 1097.3 L303.1 1094.1 L304.4 1096.0 L305.7 1095.0 L306.9 1088.7 L308.2 1088.4 L309.5 1094.5 L310.8 1092.2 L312.0 1091.9 L313.3 1094.7 L314.6 1094.3 L315.8 1094.1 L317.1 1091.0 L318.4 1097.1 L319.6 1087.8 L320.9 1096.1 L322.2 1092.2 L323.5 1095.7 L324.7 1093.8 L326.0 1094.4 L327.3 1097.4 L328.6 1092.0 L329.8 1088.2 L331.1 1092.0 L332.4 1087.5 L333.6 1092.0 L334.9 1091.6 L336.2 1095.0 L337.5 1092.2 L338.7 1094.7 L340.0 1089.9 L341.3 1094.6 L342.5 1093.4 L343.8 1096.5 L345.1 1100.0 L346.4 1095.9 L347.6 1096.4 L348.9 1091.8 L350.2 1092.4 L351.4 1099.0 L352.7 1089.8 L354.0 1093.5 L355.3 1095.5 L356.5 1096.8 L357.8 1092.9 L359.1 1094.4 L360.4 1095.9 L361.6 1097.9 L362.9 1094.7 L364.2 1094.0 L365.4 1098.0 L366.7 1097.5 L368.0 1093.6 L369.2 1096.0 L370.5 1094.9 L371.8 1095.5 L373.0 1091.0 L374.3 1096.1 L375.6 1095.4 L376.8 1092.4 L378.1 1095.7 L379.4 1093.6 L380.6 1094.4 L381.9 1095.4 L383.2 1101.8 L384.4 1099.3 L385.7 1093.7 L387.0 1099.7 L388.2 1095.7 L389.5 1100.0 L390.8 1098.4 L392.1 1099.9 L393.3 1099.2 L394.6 1095.4 L395.9 1095.1 L397.1 1097.1 L398.4 1097.3 L399.7 1099.7 L401.0 1102.9 L402.2 1097.2 L403.5 1101.8 L404.8 1098.1 L406.1 1098.3 L407.3 1094.1 L408.6 1096.9 L409.9 1098.3 L411.1 1095.8 L412.4 1094.4 L413.6 1096.2 L414.9 1099.0 L416.1 1098.3 L417.4 1094.1 L418.6 1098.1 L419.9 1095.0 L421.2 1094.3 L422.4 1098.9 L423.7 1096.4 L424.9 1095.4 L426.2 1094.8 L427.4 1086.7 L428.7 1097.1 L430.0 1098.4 L431.2 1087.5 L432.5 1087.4 L433.7 1092.8 L435.0 1096.7 L436.2 1094.9 L437.5 1095.2 L438.7 1091.5 L440.0 1090.9 L441.2 1092.3 L442.5 1085.7 L443.8 1090.2 L445.0 1086.0" fill="none" stroke="#3b55a6" stroke-width="2.9" stroke-dasharray="6.5 10.5" stroke-linecap="round" stroke-linejoin="round"/>
<path d="M445.0 1086.0 L446.2 1082.3 L447.5 1078.9 L448.8 1081.1 L450.0 1075.9 L451.2 1073.2 L452.5 1075.3 L453.8 1073.9 L455.0 1079.4 L456.2 1076.4 L457.5 1078.8 L458.8 1080.2 L460.0 1082.3 L461.1 1077.0 L462.3 1080.5 L463.4 1078.3 L464.6 1078.6 L465.7 1074.4 L466.9 1078.4 L468.0 1078.4 L469.2 1080.6 L470.4 1083.1 L471.6 1082.6 L472.8 1083.0 L474.0 1089.2 L475.2 1087.5 L476.4 1096.8 L477.6 1093.3 L478.8 1092.2 L480.0 1099.5 L481.1 1098.6 L482.3 1098.4 L483.4 1099.6 L484.6 1100.9 L485.7 1099.6 L486.9 1105.1 L488.0 1106.2 L489.2 1103.5 L490.4 1101.5 L491.6 1102.8 L492.8 1103.6 L494.0 1101.9 L495.2 1100.0 L496.4 1100.5 L497.6 1097.0 L498.8 1100.2 L500.0 1100.8 L501.2 1099.5 L502.4 1099.8 L503.6 1099.0 L504.8 1095.6 L506.0 1100.6 L507.0 1102.3 L508.0 1100.2 L509.0 1103.6 L510.0 1107.5 L511.0 1110.0 L512.0 1110.1 L513.0 1113.1 L514.0 1115.8 L515.0 1123.8 L516.0 1129.9 L517.0 1135.1 L518.0 1140.3 L519.0 1147.8 L520.0 1153.4 L521.2 1160.5 L522.5 1164.1 L523.8 1168.6 L525.0 1175.7 L526.2 1177.0 L527.5 1179.6 L528.8 1181.7 L530.0 1186.0 L531.2 1183.6 L532.5 1175.6 L533.8 1174.1 L535.0 1166.6 L536.0 1161.5 L537.0 1158.5 L538.0 1150.3 L539.0 1145.7 L540.0 1137.5 L541.0 1131.8 L542.0 1122.8 L543.0 1113.4 L544.0 1105.5 L545.0 1098.6 L546.0 1089.1 L547.0 1083.0 L548.0 1075.6 L549.0 1067.0 L550.0 1056.7 L551.0 1052.0 L552.0 1047.1 L553.0 1046.1 L554.0 1041.8 L555.0 1037.9 L556.0 1034.3 L557.0 1037.9 L558.0 1033.0 L559.0 1038.0 L560.0 1042.1 L561.0 1046.0 L562.0 1049.4 L563.0 1059.7 L564.0 1063.2 L565.0 1070.4 L566.0 1080.1 L567.0 1083.9 L568.0 1089.3 L569.0 1092.9 L570.0 1100.1 L571.2 1099.2 L572.4 1105.1 L573.6 1108.1 L574.8 1109.7 L576.0 1110.7 L577.0 1117.0 L578.0 1116.8 L579.0 1118.7 L580.0 1121.9 L581.0 1116.2 L582.0 1111.9 L583.0 1106.5 L584.0 1102.9 L585.2 1096.8 L586.5 1095.4 L587.8 1089.9 L589.0 1085.6 L590.2 1083.3 L591.5 1079.3 L592.8 1079.5 L594.0 1072.3 L595.0 1073.8 L596.0 1073.8 L597.0 1072.1 L598.0 1070.6 L599.2 1073.5 L600.5 1079.5 L601.8 1080.6 L603.0 1084.6 L604.2 1085.0 L605.5 1090.2 L606.8 1095.1 L608.0 1097.8 L609.2 1100.4 L610.4 1101.7 L611.6 1106.5 L612.8 1107.4 L614.0 1110.9 L615.0 1112.4 L616.0 1112.5 L617.0 1114.9 L618.0 1111.4 L619.0 1106.3 L620.0 1103.7 L621.0 1099.1 L622.0 1093.4 L623.0 1090.8 L624.0 1086.3 L625.0 1082.0 L626.0 1076.7 L627.0 1069.9 L628.0 1065.0 L629.0 1064.0 L630.0 1058.1 L631.0 1053.1 L632.0 1049.7 L633.0 1048.5 L634.0 1049.3 L635.0 1042.6 L636.0 1043.8 L637.0 1044.5 L638.0 1048.6 L639.0 1051.3 L640.0 1058.3 L641.0 1064.5 L642.0 1068.3 L643.0 1076.6 L644.0 1081.3 L645.0 1090.0 L646.0 1098.3 L647.0 1103.4 L648.0 1110.7 L649.0 1113.0 L650.0 1123.1 L651.0 1123.6 L652.0 1125.5 L653.0 1132.3 L654.0 1136.9 L655.0 1143.1 L656.0 1151.3 L657.2 1147.4 L658.5 1146.5 L659.8 1144.0 L661.0 1142.6 L662.0 1134.4 L663.0 1129.6 L664.0 1126.8 L665.0 1123.8 L666.0 1117.8 L667.0 1109.9 L668.0 1104.7 L669.0 1100.4 L670.0 1092.8 L671.0 1082.0 L672.0 1078.2 L673.0 1071.3 L674.0 1065.6 L675.0 1059.9 L676.0 1052.8 L677.0 1050.5 L678.2 1048.4 L679.5 1045.1 L680.8 1038.3 L682.0 1039.4 L683.2 1038.5 L684.5 1038.4 L685.8 1035.3 L687.0 1036.2 L688.0 1037.9 L689.0 1041.8 L690.0 1045.0 L691.0 1048.5 L692.0 1051.7 L693.0 1060.0 L694.0 1066.8 L695.0 1069.4 L696.0 1075.0 L697.0 1079.9 L698.0 1084.8 L699.0 1090.3 L700.0 1095.4 L701.0 1103.6 L702.0 1107.3 L703.0 1111.1 L704.0 1116.8 L705.0 1122.5 L706.0 1126.0 L707.0 1133.6 L708.0 1139.2 L709.0 1138.5 L710.0 1141.9 L711.0 1145.1 L712.0 1139.8 L713.0 1137.1 L714.0 1128.7 L715.0 1126.0 L716.2 1121.3 L717.5 1117.6 L718.8 1109.6 L720.0 1104.4 L721.0 1099.7 L722.0 1090.1 L723.0 1085.7 L724.0 1081.8 L725.0 1074.8 L726.0 1071.6 L727.0 1067.7 L728.0 1062.5 L729.0 1061.8 L730.0 1059.2 L731.0 1056.1 L732.0 1058.2 L733.0 1060.1 L734.0 1065.0 L735.0 1066.0 L736.0 1067.4 L737.0 1068.2 L738.0 1076.0 L739.0 1074.7 L740.0 1078.4 L741.0 1087.2 L742.0 1092.2 L743.2 1098.4 L744.5 1104.5 L745.8 1109.3 L747.0 1112.5 L748.2 1112.6 L749.5 1112.8 L750.8 1111.8 L752.0 1112.6 L753.0 1115.8 L754.0 1111.6 L755.0 1109.7 L756.0 1109.3 L757.0 1104.0 L758.0 1104.9 L759.0 1100.1 L760.0 1098.1 L761.0 1094.1 L762.0 1088.9 L763.0 1091.7 L764.0 1085.9 L765.2 1082.2 L766.5 1079.7 L767.8 1078.1 L769.0 1075.6 L770.2 1074.5 L771.5 1074.7 L772.8 1076.4 L774.0 1077.7 L775.2 1077.2 L776.4 1081.7 L777.6 1085.7 L778.8 1088.9 L780.0 1088.8 L781.2 1091.3 L782.4 1094.5 L783.6 1098.9 L784.8 1102.8 L786.0 1104.0 L787.0 1104.8 L788.0 1107.3 L789.0 1111.5 L790.0 1112.3 L791.2 1113.2 L792.5 1114.7 L793.8 1114.8 L795.0 1116.2 L796.2 1108.9 L797.5 1105.0 L798.8 1100.5 L800.0 1093.9 L801.0 1088.1 L802.0 1081.7 L803.0 1074.0 L804.0 1068.3 L805.0 1060.3 L806.0 1053.1 L807.0 1048.8 L808.0 1046.2 L809.0 1044.7 L810.0 1039.3 L811.2 1038.8 L812.5 1030.8 L813.8 1030.5 L815.0 1029.1 L816.2 1034.9 L817.5 1037.6 L818.8 1040.4 L820.0 1047.0 L821.0 1051.0 L822.0 1057.0 L823.0 1062.8 L824.0 1070.1 L825.0 1077.8 L826.0 1086.3 L827.0 1092.6 L828.0 1093.8 L829.0 1107.2 L830.0 1108.5 L831.0 1114.9 L832.0 1117.9 L833.0 1125.7 L834.0 1129.2 L835.0 1132.8 L836.0 1132.6 L837.0 1136.7 L838.0 1135.2 L839.2 1133.5 L840.5 1130.6 L841.8 1125.3 L843.0 1119.1 L844.0 1114.6 L845.0 1112.9 L846.0 1106.0 L847.0 1104.3 L848.0 1097.7 L849.0 1092.2 L850.0 1086.6 L851.0 1081.6 L852.0 1077.2 L853.0 1071.9 L854.0 1063.1 L855.2 1064.5 L856.4 1060.1 L857.6 1060.8 L858.8 1055.3 L860.0 1052.3 L861.2 1053.2 L862.4 1055.6 L863.6 1056.2 L864.8 1055.8 L866.0 1056.7 L867.0 1060.5 L868.0 1067.8 L869.0 1070.0 L870.0 1073.4 L871.0 1077.9 L872.0 1082.1 L873.0 1083.6 L874.0 1086.4 L875.0 1089.1 L876.0 1090.0 L877.0 1092.3 L878.0 1094.2 L879.0 1098.3 L880.0 1099.8 L881.1 1101.2 L882.3 1100.5 L883.4 1103.2 L884.6 1101.8 L885.7 1104.3 L886.9 1103.1 L888.0 1104.5 L889.2 1106.7 L890.4 1103.7 L891.6 1102.1 L892.8 1102.1 L894.0 1101.3 L895.2 1098.5 L896.4 1095.8 L897.6 1093.0 L898.8 1092.4 L900.0 1094.2 L901.2 1090.1 L902.4 1088.2 L903.6 1086.2 L904.8 1082.7 L906.0 1082.1 L907.0 1077.0 L908.0 1076.1 L909.0 1073.3 L910.0 1068.2 L911.1 1068.5 L912.3 1067.6 L913.4 1062.8 L914.6 1062.4 L915.7 1059.5 L916.9 1059.2 L918.0 1060.0 L919.1 1059.8 L920.3 1057.4 L921.4 1061.6 L922.6 1061.6 L923.7 1059.9 L924.9 1064.2 L926.0 1063.7 L927.2 1064.4 L928.4 1067.3 L929.6 1068.4 L930.8 1070.5 L932.0 1074.2 L933.1 1073.3 L934.3 1075.0 L935.4 1076.4 L936.6 1079.2 L937.7 1080.5 L938.9 1082.1 L940.0 1083.2 L941.2 1082.9 L942.4 1084.6 L943.6 1084.9 L944.8 1090.2 L946.0 1090.9 L947.2 1092.7 L948.3 1091.2 L949.5 1093.9 L950.7 1094.6 L951.8 1099.8 L953.0 1096.6 L954.2 1098.9 L955.3 1101.3 L956.5 1102.7 L957.7 1103.0 L958.8 1105.7 L960.0 1106.2 L961.1 1104.8 L962.3 1107.6 L963.4 1106.6 L964.6 1105.2 L965.7 1107.3 L966.9 1102.9 L968.0 1103.9 L969.0 1105.5 L970.0 1103.4 L971.1 1102.0 L972.1 1100.3 L973.3 1099.2 L974.6 1094.9 L975.8 1091.2 L977.1 1088.3 L978.3 1085.8 L979.5 1081.2 L980.8 1080.0 L982.0 1077.3 L983.3 1077.8 L984.5 1074.9 L985.5 1074.7 L986.6 1069.6 L987.6 1073.2 L988.7 1068.0 L989.7 1067.9 L990.9 1064.7 L992.2 1070.8 L993.4 1069.4 L994.7 1069.3 L995.9 1073.1 L996.9 1075.3 L998.0 1077.2 L999.0 1079.3 L1000.0 1082.8 L1001.0 1086.4 L1002.1 1088.7 L1003.2 1090.5 L1004.2 1093.4 L1005.2 1096.6 L1006.2 1102.4 L1007.3 1108.1 L1008.3 1113.6 L1009.3 1121.6 L1010.4 1128.6 L1011.4 1134.9 L1012.6 1137.2 L1013.9 1137.9 L1015.1 1145.0 L1016.4 1145.3 L1017.6 1145.0 L1018.9 1145.5 L1020.1 1142.5 L1021.4 1140.5 L1022.6 1136.7 L1023.9 1136.7 L1024.9 1129.9 L1026.0 1124.2 L1027.0 1118.3 L1028.0 1111.5 L1029.0 1107.9 L1030.1 1101.9 L1031.1 1099.2 L1032.1 1093.6 L1033.2 1083.4 L1034.2 1079.0 L1035.2 1072.5 L1036.4 1066.7 L1037.6 1066.3 L1038.8 1062.5 L1040.1 1056.6 L1041.3 1056.9 L1042.5 1053.7 L1043.5 1056.7 L1044.5 1057.8 L1045.6 1060.0 L1046.6 1060.8 L1047.6 1067.6 L1048.7 1074.5 L1049.7 1081.3 L1050.8 1084.7 L1051.8 1090.5 L1052.9 1097.2 L1053.9 1103.2 L1055.2 1109.1 L1056.5 1112.0 L1057.8 1114.5 L1059.1 1118.6 L1060.4 1122.8 L1061.7 1124.3 L1062.9 1125.9 L1064.2 1128.5 L1065.4 1128.6 L1066.6 1124.7 L1067.8 1125.4 L1069.1 1123.7 L1070.3 1122.0 L1071.5 1121.6 L1072.7 1116.1 L1074.0 1111.9 L1075.2 1109.7 L1076.5 1109.1 L1077.7 1107.1 L1078.7 1103.2 L1079.8 1098.4 L1080.8 1097.1 L1081.9 1092.2 L1082.9 1089.2 L1084.2 1084.8 L1085.5 1081.1 L1086.8 1079.8 L1088.1 1070.2 L1089.1 1070.6 L1090.2 1067.3 L1091.2 1065.3 L1092.2 1061.9 L1093.2 1065.8 L1094.3 1067.0 L1095.3 1066.2 L1096.4 1069.1 L1097.4 1072.6 L1098.7 1074.1 L1100.0 1076.8 L1101.3 1078.7 L1102.6 1082.6 L1103.9 1087.3 L1105.2 1088.4 L1106.4 1092.0 L1107.7 1094.5 L1108.9 1091.6 L1110.1 1092.0 L1111.3 1091.3 L1112.6 1090.6 L1113.8 1095.3 L1115.0 1093.1 L1116.2 1092.4 L1117.4 1090.2 L1118.6 1092.4 L1119.7 1091.5 L1120.9 1094.2 L1122.1 1092.7 L1123.3 1091.3 L1124.5 1091.2 L1125.8 1089.9 L1127.0 1093.9 L1128.3 1093.8 L1129.5 1094.7 L1130.7 1097.5 L1132.0 1101.5 L1133.2 1101.7 L1134.5 1104.1 L1135.7 1105.7 L1136.9 1106.2 L1138.2 1107.9 L1139.4 1109.9 L1140.7 1112.7 L1141.9 1115.0 L1143.1 1112.6 L1144.4 1109.8 L1145.6 1109.9 L1146.9 1110.6 L1148.1 1107.3 L1149.1 1103.5 L1150.2 1099.3 L1151.2 1095.0 L1152.3 1094.6 L1153.6 1087.5 L1154.8 1082.1 L1156.1 1076.9 L1157.4 1071.7 L1158.7 1069.3 L1159.9 1067.0 L1161.2 1064.8 L1162.4 1062.6 L1163.7 1054.9 L1164.9 1057.4 L1166.1 1054.2 L1167.3 1052.6 L1168.5 1054.1 L1169.7 1052.3 L1170.9 1051.6 L1172.2 1054.5 L1173.5 1054.5 L1174.8 1062.2 L1176.1 1062.7 L1177.1 1067.1 L1178.2 1068.9 L1179.2 1072.8 L1180.3 1078.1 L1181.3 1077.5 L1182.6 1084.5 L1183.8 1089.6 L1185.1 1095.3 L1186.4 1103.7 L1187.6 1104.8 L1188.8 1106.9 L1189.9 1110.9 L1191.1 1113.6 L1192.3 1110.4 L1193.5 1116.6 L1194.6 1118.4 L1195.8 1117.2 L1197.0 1118.4 L1198.3 1113.4 L1199.5 1110.2 L1200.8 1107.4 L1202.0 1104.9 L1203.0 1102.0 L1204.0 1096.0 L1205.1 1090.7 L1206.1 1087.8 L1207.1 1083.0 L1208.2 1078.3 L1209.2 1073.1 L1210.3 1068.2 L1211.5 1060.7 L1212.8 1061.8 L1214.0 1056.5 L1215.3 1048.7 L1216.5 1049.5 L1217.5 1049.9 L1218.6 1048.6 L1219.6 1046.9 L1220.7 1048.6 L1221.7 1047.8 L1223.0 1055.9 L1224.2 1056.3 L1225.5 1063.2 L1226.8 1068.5 L1227.8 1073.8 L1228.9 1076.0 L1230.0 1083.6 L1231.0 1086.4 L1232.0 1090.9 L1233.0 1095.9 L1234.1 1098.4 L1235.1 1102.2 L1236.1 1107.5 L1237.2 1107.1 L1238.2 1107.1 L1239.3 1110.2 L1240.5 1110.4 L1241.6 1107.3 L1242.8 1106.0 L1244.0 1104.7 L1245.2 1104.7 L1246.3 1102.8 L1247.5 1101.1 L1248.5 1100.7 L1249.6 1100.8 L1250.6 1097.9 L1251.8 1097.0 L1253.0 1095.6" fill="none" stroke="#3b55a6" stroke-width="2.9" stroke-dasharray="8.3 9.7" stroke-linecap="round" stroke-linejoin="round"/>
<path d="M182.0 1081.6 L183.4 1079.2 L184.8 1080.5 L186.2 1081.8 L187.6 1079.4 L188.9 1077.6 L190.3 1078.5 L191.7 1082.3 L193.1 1082.8 L194.5 1081.4 L195.9 1081.4 L197.3 1082.5 L198.7 1078.6 L200.0 1078.9 L201.4 1077.7 L202.8 1080.2 L204.2 1080.3 L205.6 1081.3 L207.0 1078.2 L208.4 1081.0 L209.8 1080.3 L211.1 1080.0 L212.5 1080.4 L213.9 1081.4 L215.3 1077.3 L216.7 1080.7 L218.1 1080.1 L219.5 1080.6 L220.8 1082.5 L222.2 1078.2 L223.6 1080.0 L225.0 1079.5 L226.4 1079.8 L227.8 1080.8 L229.2 1080.4 L230.6 1079.3 L231.9 1080.4 L233.3 1080.4 L234.7 1079.8 L236.1 1078.6 L237.5 1080.8 L238.9 1079.3 L240.3 1078.8 L241.7 1078.5 L243.0 1078.5 L244.4 1082.1 L245.8 1080.3 L247.2 1079.1 L248.6 1078.8 L250.0 1079.6 L251.4 1079.7 L252.8 1080.7 L254.2 1077.4 L255.6 1079.2 L257.0 1079.0 L258.4 1080.3 L259.8 1078.4 L261.2 1079.3 L262.6 1077.5 L264.0 1083.2 L265.4 1079.7 L266.8 1079.9 L268.2 1083.9 L269.6 1079.1 L271.0 1077.0 L272.4 1083.0 L273.8 1083.0 L275.2 1082.5 L276.6 1082.0 L278.0 1083.2 L279.4 1079.0 L280.8 1077.3 L282.2 1080.1 L283.5 1083.0 L284.9 1081.7 L286.3 1080.7 L287.7 1081.9 L289.1 1082.9 L290.5 1081.6 L291.9 1081.7 L293.3 1082.8 L294.7 1081.6 L296.1 1080.5 L297.5 1080.2 L298.9 1081.4 L300.3 1081.5 L301.7 1083.4 L303.1 1083.0 L304.5 1082.1 L305.9 1082.2 L307.3 1084.1 L308.7 1083.0 L310.1 1083.9 L311.5 1081.9 L312.9 1083.4 L314.3 1082.5 L315.7 1081.4 L317.1 1080.2 L318.4 1083.2 L319.8 1084.5 L321.1 1084.8 L322.5 1083.6 L323.8 1083.3 L325.2 1081.6 L326.5 1083.8 L327.9 1082.6 L329.2 1083.0 L330.6 1082.5 L331.9 1083.6 L333.3 1083.9 L334.6 1082.4 L336.0 1085.1 L337.3 1084.8 L338.7 1086.7 L340.0 1086.4 L341.4 1085.2 L342.7 1087.1 L344.1 1084.4 L345.5 1082.2 L346.9 1085.2 L348.2 1084.8 L349.6 1083.8 L351.0 1083.4 L352.3 1087.8 L353.7 1084.2 L355.1 1085.2 L356.5 1085.4 L357.8 1086.7 L359.2 1086.9 L360.6 1088.1 L362.0 1083.8 L363.3 1085.8 L364.7 1085.1 L366.1 1087.0 L367.4 1085.6 L368.8 1086.4 L370.2 1088.9 L371.6 1086.4 L372.9 1086.5 L374.3 1088.8 L375.6 1090.1 L376.8 1086.0 L378.1 1089.2 L379.4 1088.3 L380.6 1092.7 L381.9 1091.9 L383.2 1092.8 L384.4 1096.1 L385.7 1098.2 L387.0 1097.3 L388.2 1094.6 L389.5 1096.6 L390.8 1095.6 L392.0 1101.7 L393.3 1098.4 L394.6 1097.0 L395.8 1099.8 L397.1 1103.2 L398.4 1100.1 L399.7 1100.3 L400.9 1103.8 L402.2 1105.7 L403.5 1107.1 L404.8 1110.5 L406.0 1106.4 L407.3 1110.7 L408.6 1110.1 L409.9 1108.7 L411.1 1111.1 L412.4 1112.5 L413.7 1112.4 L414.9 1111.6 L416.2 1113.4 L417.5 1112.0 L418.7 1113.4 L420.0 1112.5 L421.3 1112.6 L422.7 1111.0 L424.0 1113.0 L425.3 1113.2 L426.7 1114.7 L428.0 1113.6 L429.3 1111.6 L430.7 1114.9 L432.0 1114.2 L433.3 1114.3 L434.7 1112.3 L436.0 1113.2 L437.3 1113.4 L438.7 1112.8 L440.0 1114.0 L441.3 1111.0 L442.7 1110.3 L444.0 1112.7 L445.3 1108.7 L446.7 1112.6 L448.0 1108.9 L449.2 1107.2 L450.4 1109.0 L451.6 1105.5 L452.8 1108.2 L454.0 1104.2 L455.2 1108.4 L456.4 1106.6 L457.6 1107.0 L458.8 1111.2 L460.0 1111.6 L461.3 1110.2 L462.7 1111.6 L464.0 1111.0 L465.3 1113.5 L466.7 1115.9 L468.0 1115.4 L469.3 1115.0 L470.7 1112.9 L472.0 1115.8 L473.3 1113.5 L474.7 1115.4 L476.0 1116.0 L477.3 1112.7 L478.7 1111.4 L480.0 1111.3 L481.3 1110.7 L482.7 1108.4 L484.0 1108.2 L485.2 1107.2 L486.4 1113.1 L487.6 1113.5 L488.8 1118.2 L490.0 1117.2 L491.3 1123.5 L492.7 1129.0 L494.0 1134.0 L495.3 1144.3 L496.7 1151.2 L498.0 1160.0 L499.3 1169.1 L500.7 1177.2 L502.0 1186.7 L503.3 1192.1 L504.7 1201.3 L506.0 1205.9 L507.2 1212.1 L508.5 1215.9 L509.8 1220.7 L511.0 1225.9 L512.2 1226.6 L513.4 1227.5 L514.6 1226.1 L515.8 1230.3 L517.0 1228.9 L518.4 1230.4 L519.8 1231.9 L521.2 1235.5 L522.6 1234.8 L524.0 1237.8 L525.3 1243.7 L526.7 1248.0 L528.0 1252.9 L529.3 1258.0 L530.7 1265.4 L532.0 1270.1 L533.2 1273.8 L534.4 1276.3 L535.6 1279.4 L536.8 1278.5 L538.0 1283.8 L539.2 1280.7 L540.4 1279.7 L541.6 1278.8 L542.8 1278.6 L544.0 1279.3 L545.2 1274.7 L546.5 1270.8 L547.8 1264.0 L549.0 1264.2 L550.2 1258.0 L551.4 1254.5 L552.6 1249.2 L553.8 1244.6 L555.0 1238.4 L556.4 1236.6 L557.8 1230.1 L559.2 1229.9 L560.6 1225.5 L562.0 1224.3 L563.2 1222.6 L564.4 1220.0 L565.6 1218.7 L566.8 1216.2 L568.0 1216.5 L569.2 1212.6 L570.4 1213.5 L571.6 1209.7 L572.8 1211.5 L574.0 1210.1 L575.2 1206.0 L576.4 1203.0 L577.6 1199.8 L578.8 1195.2 L580.0 1192.2 L581.3 1190.9 L582.7 1187.9 L584.0 1184.5 L585.3 1179.1 L586.7 1178.2 L588.0 1174.2 L589.2 1170.0 L590.4 1166.8 L591.6 1164.4 L592.8 1159.3 L594.0 1155.0 L595.2 1153.3 L596.4 1152.4 L597.6 1148.9 L598.8 1147.3 L600.0 1145.9 L601.3 1146.9 L602.7 1145.3 L604.0 1148.0 L605.3 1150.1 L606.7 1151.9 L608.0 1152.1 L609.3 1153.0 L610.7 1154.1 L612.0 1156.9 L613.3 1159.2 L614.7 1161.3 L616.0 1162.5 L617.2 1160.0 L618.4 1161.2 L619.6 1162.4 L620.8 1161.1 L622.0 1160.0 L623.2 1157.9 L624.4 1155.4 L625.6 1154.0 L626.8 1152.6 L628.0 1148.5 L629.3 1145.2 L630.7 1141.6 L632.0 1136.4 L633.3 1136.4 L634.7 1135.5 L636.0 1134.9 L637.3 1134.6 L638.7 1133.5 L640.0 1131.9 L641.2 1132.2 L642.5 1130.0 L643.8 1131.3 L645.0 1129.0 L646.2 1131.3 L647.5 1128.3 L648.8 1128.6 L650.0 1127.6 L651.3 1126.5 L652.7 1125.1 L654.0 1123.1 L655.3 1121.9 L656.7 1122.2 L658.0 1121.1 L659.2 1115.5 L660.5 1113.3 L661.8 1107.6 L663.0 1103.6 L664.4 1098.4 L665.8 1095.4 L667.2 1093.2 L668.6 1084.9 L670.0 1081.8 L671.2 1082.5 L672.4 1079.8 L673.6 1080.5 L674.8 1081.8 L676.0 1078.2 L677.3 1080.8 L678.7 1082.7 L680.0 1082.8 L681.3 1080.3 L682.7 1083.0 L684.0 1084.1 L685.2 1085.9 L686.4 1087.7 L687.6 1090.5 L688.8 1092.2 L690.0 1094.5 L691.2 1093.8 L692.4 1092.3 L693.6 1091.5 L694.8 1093.2 L696.0 1090.8 L697.3 1087.4 L698.7 1082.9 L700.0 1081.3 L701.3 1080.3 L702.7 1075.9 L704.0 1073.7 L705.2 1072.8 L706.4 1071.5 L707.6 1071.5 L708.8 1070.9 L710.0 1067.4 L711.3 1069.3 L712.7 1069.3 L714.0 1068.5 L715.3 1068.1 L716.7 1071.7 L718.0 1069.6 L719.2 1072.8 L720.5 1075.4 L721.8 1078.9 L723.0 1081.1 L724.3 1080.1 L725.6 1077.7 L726.9 1076.6 L728.1 1081.6 L729.4 1080.0 L730.7 1081.1 L732.0 1080.9 L733.3 1080.7 L734.7 1083.6 L736.0 1079.0 L737.3 1081.1 L738.7 1080.0 L740.0 1079.0 L741.3 1080.4 L742.7 1078.6 L744.0 1080.5 L745.3 1079.4 L746.7 1082.3 L748.0 1083.2 L749.3 1079.8 L750.7 1080.5 L752.0 1081.3 L753.3 1079.2 L754.7 1078.1 L756.0 1076.3 L757.3 1080.2 L758.7 1079.2 L760.0 1074.4 L761.3 1078.2 L762.7 1077.0 L764.0 1075.3 L765.3 1074.2 L766.7 1074.3 L768.0 1074.8 L769.3 1074.0 L770.7 1075.1 L772.0 1075.4 L773.3 1072.6 L774.7 1076.7 L776.0 1072.8 L777.3 1075.1 L778.7 1074.8 L780.0 1074.0 L781.3 1071.6 L782.7 1075.6 L784.0 1072.4 L785.3 1075.2 L786.7 1074.2 L788.0 1070.2 L789.3 1074.3 L790.7 1074.0 L792.0 1074.0 L793.3 1072.4 L794.7 1073.9 L796.0 1074.9 L797.2 1074.7 L798.5 1077.2 L799.8 1077.5 L801.0 1076.1 L802.2 1079.0 L803.5 1079.5 L804.8 1080.3 L806.0 1082.3 L807.2 1082.9 L808.4 1085.4 L809.6 1085.8 L810.8 1082.1 L812.0 1082.1 L813.3 1082.7 L814.7 1083.2 L816.0 1080.2 L817.3 1078.4 L818.7 1078.7 L820.0 1079.2 L821.3 1077.3 L822.7 1077.2 L824.0 1075.0 L825.3 1075.1 L826.7 1071.2 L828.0 1074.1 L829.3 1074.1 L830.7 1072.9 L832.0 1074.9 L833.3 1076.8 L834.7 1078.0 L836.0 1077.4 L837.3 1078.8 L838.7 1078.9 L840.0 1078.0 L841.3 1081.7 L842.7 1079.5 L844.0 1080.5 L845.3 1078.3 L846.7 1080.2 L848.0 1081.0 L849.3 1080.5 L850.7 1081.4 L852.0 1080.5 L853.3 1078.8 L854.7 1080.9 L856.0 1080.8 L857.3 1080.1 L858.7 1079.7 L860.0 1080.5 L861.3 1081.0 L862.7 1082.4 L864.0 1083.8 L865.2 1082.3 L866.5 1083.8 L867.8 1082.7 L869.0 1082.5 L870.2 1083.4 L871.5 1082.6 L872.8 1085.0 L874.0 1082.3 L875.2 1083.2 L876.5 1080.3 L877.8 1084.6 L879.0 1081.3 L880.2 1082.4 L881.5 1083.0 L882.8 1081.1 L884.0 1080.5 L885.2 1079.7 L886.5 1077.0 L887.8 1077.1 L889.0 1075.1 L890.2 1075.3 L891.5 1074.3 L892.8 1074.8 L894.0 1070.4 L895.2 1073.5 L896.5 1071.9 L897.8 1072.5 L899.0 1071.3 L900.2 1073.2 L901.5 1073.5 L902.8 1071.5 L904.0 1072.5 L905.2 1073.9 L906.5 1072.8 L907.8 1071.7 L909.0 1071.7 L910.2 1072.2 L911.5 1071.1 L912.8 1072.4 L914.0 1069.9 L915.2 1070.7 L916.5 1074.0 L917.8 1075.1 L919.0 1074.7 L920.2 1078.3 L921.5 1078.3 L922.8 1077.9 L924.0 1077.9 L925.3 1082.3 L926.7 1079.2 L928.0 1083.1 L929.3 1083.1 L930.7 1085.9 L932.0 1086.2 L933.3 1083.8 L934.7 1083.8 L936.0 1081.1 L937.3 1080.8 L938.7 1078.8 L940.0 1077.2 L941.2 1076.3 L942.5 1075.9 L943.8 1072.2 L945.0 1071.9 L946.2 1072.8 L947.5 1070.2 L948.8 1071.5 L950.0 1067.2 L951.3 1067.0 L952.7 1070.5 L954.0 1070.4 L955.3 1070.8 L956.7 1071.3 L958.0 1070.2 L959.3 1072.2 L960.7 1073.4 L962.0 1071.7 L963.3 1073.3 L964.7 1072.8 L966.0 1075.0 L967.3 1074.3 L968.7 1075.2 L970.0 1077.8 L971.4 1077.3 L972.8 1079.2 L974.1 1082.2 L975.5 1082.8 L976.9 1083.9 L978.3 1085.3 L979.7 1086.7 L981.1 1083.7 L982.4 1084.9 L983.8 1085.5 L985.2 1087.1 L986.6 1089.4 L987.9 1088.6 L989.3 1089.0 L990.7 1089.2 L992.1 1086.4 L993.5 1085.2 L994.9 1085.7 L996.2 1084.6 L997.6 1085.1 L999.0 1082.8 L1000.4 1082.3 L1001.8 1080.4 L1003.1 1079.8 L1004.5 1076.9 L1005.9 1079.4 L1007.3 1078.6 L1008.6 1079.0 L1010.0 1079.7 L1011.4 1077.9 L1012.8 1076.4 L1014.2 1078.2 L1015.5 1077.5 L1016.9 1074.5 L1018.3 1076.1 L1019.7 1077.9 L1021.1 1077.1 L1022.4 1077.1 L1023.8 1077.3 L1025.2 1075.6 L1026.6 1078.4 L1028.0 1076.2 L1029.3 1076.9 L1030.7 1076.6 L1032.1 1076.2 L1033.4 1077.0 L1034.6 1081.8 L1035.9 1079.2 L1037.1 1081.6 L1038.4 1082.1 L1039.7 1081.7 L1041.0 1082.2 L1042.3 1082.7 L1043.6 1082.3 L1044.8 1085.3 L1046.1 1083.8 L1047.4 1082.7 L1048.7 1084.4 L1050.0 1083.2 L1051.3 1083.9 L1052.6 1084.0 L1053.9 1082.5 L1055.2 1084.1 L1056.5 1082.5 L1057.8 1082.1 L1059.1 1080.6 L1060.5 1080.7 L1061.8 1076.6 L1063.2 1077.9 L1064.6 1075.8 L1065.9 1075.5 L1067.3 1071.2 L1068.6 1072.1 L1069.8 1072.5 L1071.1 1070.7 L1072.3 1068.6 L1073.6 1070.2 L1074.9 1071.7 L1076.3 1072.2 L1077.6 1072.5 L1078.9 1072.0 L1080.2 1071.3 L1081.6 1073.4 L1082.9 1075.4 L1084.1 1075.4 L1085.3 1076.1 L1086.5 1077.9 L1087.7 1079.2 L1088.9 1079.5 L1090.1 1078.7 L1091.5 1079.9 L1092.9 1080.4 L1094.2 1083.7 L1095.6 1085.5 L1097.0 1085.5 L1098.4 1086.8 L1099.8 1088.7 L1101.2 1089.1 L1102.6 1089.6 L1103.9 1090.4 L1105.3 1092.2 L1106.7 1093.3 L1108.1 1090.2 L1109.5 1088.5 L1110.8 1090.0 L1112.2 1088.8 L1113.6 1083.5 L1115.0 1085.1 L1116.4 1083.4 L1117.8 1081.5 L1119.1 1082.2 L1120.5 1081.1 L1121.9 1079.6 L1123.3 1080.5 L1124.6 1080.1 L1126.0 1080.3 L1127.4 1074.8 L1128.8 1076.8 L1130.2 1076.4 L1131.5 1075.7 L1132.9 1074.8 L1134.3 1076.5 L1135.7 1072.7 L1137.0 1072.7 L1138.4 1074.1 L1139.8 1075.5 L1141.1 1071.1 L1142.4 1076.1 L1143.7 1075.1 L1145.0 1074.1 L1146.3 1078.0 L1147.6 1077.5 L1148.9 1076.5 L1150.2 1078.7 L1151.5 1078.0 L1152.8 1081.7 L1154.1 1081.8 L1155.4 1082.1 L1156.7 1081.1 L1158.0 1083.4 L1159.3 1085.1 L1160.6 1087.1 L1161.9 1087.9 L1163.2 1087.0 L1164.5 1088.6 L1165.8 1088.2 L1167.0 1089.7 L1168.3 1089.1 L1169.6 1087.2 L1170.9 1088.4 L1172.3 1087.9 L1173.7 1087.7 L1175.1 1086.1 L1176.4 1086.5 L1177.8 1082.4 L1179.2 1081.5 L1180.4 1083.8 L1181.7 1082.7 L1182.9 1078.0 L1184.2 1079.4 L1185.4 1077.1 L1186.8 1079.1 L1188.2 1080.0 L1189.5 1080.3 L1190.9 1079.7 L1192.3 1081.2 L1193.7 1080.1 L1195.0 1082.4 L1196.4 1078.1 L1197.8 1079.5 L1199.2 1080.7 L1200.6 1081.2 L1202.0 1082.8 L1203.4 1080.2 L1204.7 1081.3 L1206.1 1080.2 L1207.5 1081.4 L1208.9 1084.0 L1210.3 1080.0 L1211.6 1083.5 L1212.9 1081.6 L1214.2 1082.1 L1215.4 1081.5 L1216.7 1082.3 L1218.0 1082.2 L1219.3 1084.4 L1220.6 1085.3 L1221.8 1083.5 L1223.0 1086.2 L1224.2 1085.9 L1225.5 1088.1 L1226.7 1088.7 L1227.9 1090.2 L1229.2 1088.1 L1230.6 1087.8 L1231.9 1085.9 L1233.2 1087.0 L1234.5 1085.0 L1235.9 1087.5 L1237.2 1083.3 L1238.6 1083.2 L1240.0 1083.5 L1241.3 1082.8 L1242.7 1081.6 L1244.1 1079.8 L1245.5 1078.6 L1246.8 1077.3 L1248.1 1076.3 L1249.4 1075.9 L1250.7 1071.8 L1252.0 1071.5" fill="none" stroke="#000" stroke-width="5.5" stroke-linejoin="round" stroke-linecap="round"/>
</g>
<g stroke="#000" stroke-width="6.8" stroke-linecap="round" fill="none">
<path d="M1255.6 996.8 L180.6 996.8 L180.6 1362.1 L1255.6 1362.1" stroke-linejoin="round"/>
<path d="M180.6 996.8 H197.6"/>
<path d="M180.6 1042.5 H189.6"/>
<path d="M180.6 1088.1 H197.6"/>
<path d="M180.6 1133.8 H189.6"/>
<path d="M180.6 1179.5 H197.6"/>
<path d="M180.6 1225.1 H189.6"/>
<path d="M180.6 1270.8 H197.6"/>
<path d="M180.6 1316.4 H189.6"/>
<path d="M180.6 1362.1 H197.6"/>
<path d="M181.0 1362.1 V1345.1"/>
<path d="M248.1 1362.1 V1353.6"/>
<path d="M315.2 1362.1 V1345.1"/>
<path d="M382.4 1362.1 V1353.6"/>
<path d="M449.5 1362.1 V1345.1"/>
<path d="M516.6 1362.1 V1353.6"/>
<path d="M583.7 1362.1 V1345.1"/>
<path d="M650.8 1362.1 V1353.6"/>
<path d="M718.0 1362.1 V1345.1"/>
<path d="M785.1 1362.1 V1353.6"/>
<path d="M852.2 1362.1 V1345.1"/>
<path d="M919.3 1362.1 V1353.6"/>
<path d="M986.4 1362.1 V1345.1"/>
<path d="M1053.5 1362.1 V1353.6"/>
<path d="M1120.7 1362.1 V1345.1"/>
<path d="M1187.8 1362.1 V1353.6"/>
<path d="M1254.9 1362.1 V1345.1"/>
</g>
<g stroke="#3b55a6" stroke-width="6.8" stroke-linecap="round" fill="none">
<path d="M1255.6 996.8 V1362.1"/>
<path d="M1255.6 996.8 H1238.6"/>
<path d="M1255.6 1042.5 H1246.6"/>
<path d="M1255.6 1088.1 H1238.6"/>
<path d="M1255.6 1133.8 H1246.6"/>
<path d="M1255.6 1179.5 H1238.6"/>
<path d="M1255.6 1225.1 H1246.6"/>
<path d="M1255.6 1270.8 H1238.6"/>
<path d="M1255.6 1316.4 H1246.6"/>
<path d="M1255.6 1362.1 H1238.6"/>
</g>
<g font-family="Liberation Serif" font-size="52.3" fill="#000">
<text transform="translate(162.3 1010.5) scale(0.958 1)" text-anchor="end">40</text>
<text transform="translate(162.3 1101.8) scale(0.958 1)" text-anchor="end">0</text>
<text transform="translate(162.3 1193.2) scale(0.958 1)" text-anchor="end">-40</text>
<text transform="translate(162.3 1284.5) scale(0.958 1)" text-anchor="end">-80</text>
<text transform="translate(162.3 1375.8) scale(0.958 1)" text-anchor="end">-120</text>
<text transform="translate(181.0 1419.1) scale(0.958 1)" text-anchor="middle">0</text>
<text transform="translate(315.2 1419.1) scale(0.958 1)" text-anchor="middle">50</text>
<text transform="translate(449.5 1419.1) scale(0.958 1)" text-anchor="middle">100</text>
<text transform="translate(583.7 1419.1) scale(0.958 1)" text-anchor="middle">150</text>
<text transform="translate(718.0 1419.1) scale(0.958 1)" text-anchor="middle">200</text>
<text transform="translate(852.2 1419.1) scale(0.958 1)" text-anchor="middle">250</text>
<text transform="translate(986.4 1419.1) scale(0.958 1)" text-anchor="middle">300</text>
<text transform="translate(1120.7 1419.1) scale(0.958 1)" text-anchor="middle">350</text>
<text transform="translate(1254.9 1419.1) scale(0.958 1)" text-anchor="middle">400</text>
</g>
<g font-family="Liberation Serif" font-size="52.3" fill="#3b55a6">
<text transform="translate(1273.5 1010.5) scale(0.958 1)">20</text>
<text transform="translate(1273.5 1101.8) scale(0.958 1)">0</text>
<text transform="translate(1273.5 1193.2) scale(0.958 1)">-20</text>
<text transform="translate(1273.5 1284.5) scale(0.958 1)">-40</text>
<text transform="translate(1273.5 1375.8) scale(0.958 1)">-60</text>
</g>
<defs><clipPath id="c3"><rect x="180.6" y="1483.3" width="1075.0" height="365.3"/></clipPath></defs>
<g clip-path="url(#c3)">
<path d="M182.0 1577.8 L183.2 1574.8 L184.4 1574.5 L185.7 1571.3 L186.9 1575.8 L188.2 1576.6 L189.5 1574.5 L190.8 1574.8 L192.1 1571.6 L193.4 1579.3 L194.7 1576.5 L196.0 1574.7 L197.3 1577.2 L198.6 1576.5 L199.9 1575.9 L201.2 1575.1 L202.5 1575.8 L203.8 1576.8 L205.1 1577.8 L206.4 1577.9 L207.7 1576.7 L209.0 1578.0 L210.3 1575.2 L211.6 1571.5 L212.9 1571.7 L214.2 1577.9 L215.5 1571.2 L216.8 1573.5 L218.1 1575.6 L219.4 1578.1 L220.7 1570.1 L222.0 1572.6 L223.3 1573.4 L224.6 1573.6 L225.9 1575.6 L227.2 1577.7 L228.5 1577.2 L229.8 1583.0 L231.1 1579.8 L232.4 1572.0 L233.7 1571.6 L235.0 1574.9 L236.3 1574.7 L237.6 1578.5 L238.9 1577.3 L240.2 1577.8 L241.5 1575.6 L242.8 1576.8 L244.1 1576.6 L245.4 1575.0 L246.7 1577.2 L248.0 1571.9 L249.3 1578.1 L250.6 1577.2 L251.9 1583.3 L253.2 1575.4 L254.5 1571.5 L255.8 1573.9 L257.1 1575.0 L258.4 1573.5 L259.7 1572.3 L261.0 1574.5 L262.3 1571.8 L263.6 1578.6 L264.9 1571.5 L266.2 1577.1 L267.5 1578.2 L268.8 1576.7 L270.1 1579.2 L271.4 1576.6 L272.7 1577.8 L274.0 1573.2 L275.3 1572.2 L276.6 1574.1 L277.9 1575.8 L279.2 1578.0 L280.5 1572.1 L281.8 1573.6 L283.0 1573.2 L284.3 1577.4 L285.6 1573.7 L286.9 1578.2 L288.2 1574.3 L289.5 1573.2 L290.8 1573.3 L292.1 1570.6 L293.4 1568.1 L294.7 1573.5 L296.0 1573.0 L297.3 1580.6 L298.6 1576.1 L299.9 1577.4 L301.2 1575.4 L302.5 1574.4 L303.8 1571.1 L305.1 1571.5 L306.3 1578.7 L307.6 1573.6 L308.9 1573.6 L310.2 1576.8 L311.5 1574.2 L312.8 1574.2 L314.1 1580.1 L315.4 1575.8 L316.7 1573.7 L318.0 1573.7 L319.3 1572.8 L320.6 1575.7 L321.9 1576.2 L323.2 1573.1 L324.5 1574.0 L325.8 1570.4 L327.1 1573.8 L328.4 1576.4 L329.6 1572.0 L330.9 1574.2 L332.2 1572.6 L333.5 1573.2 L334.8 1575.2 L336.1 1571.9 L337.4 1577.4 L338.7 1577.8 L340.0 1577.5 L341.3 1572.1 L342.5 1569.5 L343.8 1573.2 L345.1 1575.1 L346.3 1574.7 L347.6 1574.5 L348.9 1575.1 L350.2 1574.2 L351.4 1576.9 L352.7 1571.6 L354.0 1576.4 L355.2 1576.9 L356.5 1574.1 L357.8 1585.4 L359.0 1576.6 L360.3 1576.6 L361.6 1572.8 L362.9 1576.8 L364.1 1576.8 L365.4 1579.3 L366.7 1575.2 L367.9 1579.4 L369.2 1573.1 L370.5 1576.8 L371.7 1572.1 L373.0 1576.9 L374.3 1579.0 L375.5 1573.1 L376.8 1579.0 L378.1 1578.5 L379.4 1573.2 L380.6 1574.9 L381.9 1576.2 L383.2 1579.0 L384.4 1581.4 L385.7 1576.1 L386.9 1575.8 L388.2 1577.9 L389.4 1572.3 L390.7 1581.1 L391.9 1580.1 L393.2 1580.2 L394.4 1585.0 L395.7 1581.3 L396.9 1580.6 L398.2 1585.7 L399.4 1582.4 L400.5 1583.2 L401.7 1581.9 L402.9 1582.2 L404.0 1582.4 L405.1 1582.2 L406.3 1577.9 L407.5 1583.9 L408.6 1579.1 L409.8 1579.1 L411.0 1582.6 L412.3 1579.3 L413.5 1581.9 L414.7 1583.8 L415.9 1583.4 L417.1 1580.1 L418.4 1584.0 L419.6 1581.0 L420.8 1579.6 L422.0 1579.7 L423.2 1582.8 L424.5 1580.4 L425.7 1585.7 L426.9 1584.5 L428.2 1583.5 L429.4 1584.5 L430.7 1583.5 L431.9 1578.6 L433.2 1586.6 L434.4 1575.9 L435.7 1579.7 L437.0 1574.0 L438.2 1577.6 L439.5 1576.8 L440.7 1573.9 L442.0 1578.4 L443.2 1574.9 L444.4 1572.2 L445.6 1567.9" fill="none" stroke="#3b55a6" stroke-width="2.9" stroke-dasharray="6.5 10.5" stroke-linecap="round" stroke-linejoin="round"/>
<path d="M445.6 1567.9 L446.8 1569.9 L448.0 1564.6 L449.2 1565.1 L450.5 1559.8 L451.8 1563.8 L453.0 1559.4 L454.2 1563.4 L455.3 1562.6 L456.5 1564.9 L457.7 1567.5 L458.8 1568.3 L460.0 1573.8 L461.2 1569.8 L462.5 1569.8 L463.8 1572.3 L465.0 1570.8 L466.2 1569.0 L467.5 1570.3 L468.8 1572.3 L470.0 1571.2 L471.1 1574.5 L472.3 1571.8 L473.4 1575.9 L474.6 1575.4 L475.7 1577.6 L476.9 1578.5 L478.0 1579.6 L479.1 1586.3 L480.3 1583.3 L481.4 1585.5 L482.6 1585.7 L483.7 1589.5 L484.9 1586.1 L486.0 1585.8 L487.2 1588.6 L488.4 1585.2 L489.6 1588.9 L490.8 1584.0 L492.0 1584.6 L493.2 1585.9 L494.4 1582.3 L495.6 1583.3 L496.8 1584.0 L498.0 1580.5 L499.2 1583.9 L500.4 1582.6 L501.6 1585.7 L502.8 1590.0 L504.0 1590.5 L505.2 1590.0 L506.5 1592.2 L507.8 1593.5 L509.0 1598.4 L510.2 1600.3 L511.5 1598.6 L512.8 1601.4 L514.0 1602.8 L515.0 1609.9 L516.0 1614.7 L517.0 1619.2 L518.0 1625.2 L519.0 1630.5 L520.0 1635.0 L521.0 1641.7 L522.0 1646.4 L523.0 1654.0 L524.2 1657.4 L525.5 1656.3 L526.8 1664.1 L528.0 1664.9 L529.0 1670.0 L530.0 1673.1 L531.0 1679.0 L532.0 1672.0 L533.0 1667.5 L534.0 1661.3 L535.0 1657.0 L536.0 1648.9 L537.0 1638.4 L538.0 1630.8 L539.0 1624.3 L540.0 1619.1 L541.0 1614.3 L542.0 1607.2 L543.0 1598.0 L544.0 1584.8 L545.0 1574.6 L546.0 1564.8 L547.0 1553.9 L548.0 1545.5 L549.0 1538.6 L550.0 1533.0 L551.0 1528.8 L552.0 1522.0 L553.2 1520.5 L554.5 1517.9 L555.8 1516.9 L557.0 1514.8 L558.0 1517.2 L559.0 1519.1 L560.0 1524.6 L561.0 1530.1 L562.0 1533.2 L563.0 1540.0 L564.0 1548.7 L565.0 1554.9 L566.0 1562.5 L567.0 1572.5 L568.2 1575.3 L569.5 1583.2 L570.8 1586.4 L572.0 1593.7 L573.2 1594.5 L574.3 1595.2 L575.5 1599.0 L576.7 1597.8 L577.8 1602.0 L579.0 1602.7 L580.0 1601.3 L581.0 1595.4 L582.0 1595.2 L583.0 1593.6 L584.0 1586.2 L585.0 1583.0 L586.0 1580.2 L587.0 1579.7 L588.2 1571.8 L589.5 1567.1 L590.8 1564.8 L592.0 1560.8 L593.2 1555.4 L594.5 1549.3 L595.8 1547.9 L597.0 1538.9 L598.0 1544.7 L599.0 1546.5 L600.0 1550.1 L601.0 1559.0 L602.0 1561.8 L603.0 1569.9 L604.0 1573.0 L605.0 1575.7 L606.0 1581.9 L607.0 1583.1 L608.2 1588.4 L609.5 1591.5 L610.8 1590.8 L612.0 1595.2 L613.2 1598.5 L614.5 1598.4 L615.8 1597.8 L617.0 1602.3 L618.0 1597.5 L619.0 1594.3 L620.0 1588.7 L621.0 1587.4 L622.0 1582.0 L623.0 1574.7 L624.0 1571.6 L625.0 1564.5 L626.0 1559.9 L627.0 1553.9 L628.0 1548.3 L629.0 1544.1 L630.0 1544.1 L631.0 1539.7 L632.2 1534.3 L633.5 1532.8 L634.8 1528.4 L636.0 1524.4 L637.0 1527.0 L638.0 1530.6 L639.0 1536.8 L640.0 1538.8 L641.0 1545.2 L642.0 1553.0 L643.0 1557.5 L644.0 1565.4 L645.0 1572.2 L646.0 1582.4 L647.0 1583.8 L648.0 1592.9 L649.0 1599.0 L650.0 1604.7 L651.2 1615.2 L652.5 1620.0 L653.8 1622.9 L655.0 1628.5 L656.2 1628.1 L657.5 1627.7 L658.8 1627.0 L660.0 1627.3 L661.0 1624.4 L662.0 1619.4 L663.0 1616.2 L664.0 1609.1 L665.0 1606.6 L666.0 1597.1 L667.0 1590.2 L668.0 1583.8 L669.0 1579.7 L670.0 1572.8 L671.0 1565.4 L672.0 1560.8 L673.0 1557.1 L674.0 1548.2 L675.0 1541.0 L676.0 1533.9 L677.2 1533.0 L678.4 1528.8 L679.6 1527.6 L680.8 1523.8 L682.0 1524.0 L683.2 1521.8 L684.4 1524.9 L685.6 1524.2 L686.8 1523.2 L688.0 1524.7 L689.0 1530.2 L690.0 1532.8 L691.0 1541.3 L692.0 1546.7 L693.0 1553.8 L694.0 1558.7 L695.0 1564.3 L696.0 1571.1 L697.0 1574.6 L698.0 1579.9 L699.0 1586.1 L700.0 1588.5 L701.0 1593.1 L702.0 1603.1 L703.0 1609.6 L704.0 1617.4 L705.0 1621.3 L706.0 1624.5 L707.0 1632.1 L708.2 1629.1 L709.4 1626.7 L710.6 1623.6 L711.8 1620.8 L713.0 1618.2 L714.2 1611.5 L715.5 1608.6 L716.8 1602.1 L718.0 1598.2 L719.0 1593.4 L720.0 1584.7 L721.0 1577.1 L722.0 1572.1 L723.0 1567.8 L724.0 1562.4 L725.0 1555.6 L726.0 1552.1 L727.0 1543.7 L728.0 1542.1 L729.0 1539.1 L730.2 1539.2 L731.3 1541.8 L732.5 1541.5 L733.7 1544.0 L734.8 1547.3 L736.0 1546.0 L737.0 1554.0 L738.0 1555.3 L739.0 1558.8 L740.0 1565.7 L741.0 1572.7 L742.0 1584.2 L743.2 1589.0 L744.5 1591.3 L745.8 1596.2 L747.0 1600.9 L748.2 1601.6 L749.5 1601.6 L750.8 1604.5 L752.0 1604.4 L753.2 1601.5 L754.5 1601.2 L755.8 1601.7 L757.0 1597.7 L758.0 1594.7 L759.0 1593.0 L760.0 1588.4 L761.0 1583.2 L762.0 1579.8 L763.0 1575.7 L764.0 1574.3 L765.0 1568.6 L766.0 1567.1 L767.0 1564.7 L768.0 1564.3 L769.0 1564.2 L770.2 1563.0 L771.5 1563.7 L772.8 1563.4 L774.0 1562.8 L775.0 1565.1 L776.0 1566.6 L777.0 1569.2 L778.0 1575.7 L779.2 1578.1 L780.5 1579.8 L781.8 1582.9 L783.0 1585.3 L784.2 1587.0 L785.5 1591.4 L786.8 1592.0 L788.0 1597.1 L789.0 1597.5 L790.0 1600.3 L791.0 1603.7 L792.0 1603.8 L793.0 1602.1 L794.0 1601.4 L795.0 1599.3 L796.0 1599.1 L797.0 1592.7 L798.0 1588.5 L799.0 1581.7 L800.0 1576.3 L801.0 1572.2 L802.0 1566.5 L803.0 1557.5 L804.0 1551.3 L805.0 1547.8 L806.0 1545.5 L807.0 1538.6 L808.0 1535.7 L809.0 1534.6 L810.0 1529.7 L811.0 1526.2 L812.0 1523.4 L813.2 1521.7 L814.5 1515.8 L815.8 1514.4 L817.0 1512.9 L818.0 1521.2 L819.0 1526.6 L820.0 1529.4 L821.0 1535.6 L822.0 1540.1 L823.0 1547.6 L824.0 1555.2 L825.0 1561.6 L826.0 1570.3 L827.0 1576.7 L828.0 1582.7 L829.0 1589.0 L830.0 1592.7 L831.0 1598.9 L832.0 1604.0 L833.0 1608.5 L834.0 1613.2 L835.0 1616.5 L836.0 1620.0 L837.2 1618.6 L838.3 1616.8 L839.5 1613.9 L840.7 1616.1 L841.8 1609.9 L843.0 1611.8 L844.0 1604.7 L845.0 1598.4 L846.0 1594.8 L847.0 1587.8 L848.0 1583.2 L849.0 1580.3 L850.0 1574.0 L851.0 1568.2 L852.0 1563.8 L853.0 1555.6 L854.0 1555.2 L855.2 1550.1 L856.5 1545.6 L857.8 1543.5 L859.0 1541.5 L860.2 1539.2 L861.5 1540.0 L862.8 1542.9 L864.0 1541.9 L865.0 1544.6 L866.0 1547.2 L867.0 1549.1 L868.0 1553.9 L869.2 1558.8 L870.4 1562.6 L871.6 1568.0 L872.8 1569.1 L874.0 1573.0 L875.0 1574.8 L876.0 1576.0 L877.0 1580.9 L878.0 1581.6 L879.2 1584.3 L880.4 1585.4 L881.6 1589.3 L882.8 1590.0 L884.0 1593.5 L885.1 1595.3 L886.3 1592.7 L887.4 1592.8 L888.6 1591.5 L889.7 1590.2 L890.9 1594.6 L892.0 1589.2 L893.2 1593.4 L894.4 1590.6 L895.6 1587.7 L896.8 1587.1 L898.0 1584.9 L899.0 1582.1 L900.0 1578.7 L901.0 1574.5 L902.0 1570.6 L903.2 1567.6 L904.4 1564.6 L905.6 1561.3 L906.8 1558.3 L908.0 1555.8 L909.2 1552.5 L910.5 1550.0 L911.8 1547.0 L913.0 1545.0 L914.2 1546.0 L915.3 1547.0 L916.5 1548.4 L917.7 1548.3 L918.8 1548.1 L920.0 1552.2 L921.1 1553.2 L922.3 1554.8 L923.4 1556.2 L924.6 1555.1 L925.7 1559.2 L926.9 1560.8 L928.0 1561.8 L929.1 1560.5 L930.3 1562.6 L931.4 1564.5 L932.6 1565.5 L933.7 1564.6 L934.9 1566.5 L936.0 1568.0 L937.2 1566.6 L938.3 1568.9 L939.5 1571.0 L940.7 1572.2 L941.8 1574.8 L943.0 1577.8 L944.2 1577.4 L945.3 1577.9 L946.5 1579.4 L947.7 1583.0 L948.8 1584.2 L950.0 1581.8 L951.2 1585.8 L952.4 1586.9 L953.6 1586.1 L954.8 1587.7 L956.0 1589.6 L957.2 1588.7 L958.4 1590.9 L959.6 1592.7 L960.8 1592.4 L962.0 1594.5 L963.2 1595.1 L964.4 1590.1 L965.6 1593.3 L966.8 1592.3 L968.0 1588.8 L969.0 1587.6 L970.0 1586.0 L971.0 1582.1 L972.0 1583.2 L973.3 1579.2 L974.5 1576.6 L975.8 1570.7 L977.0 1571.8 L978.3 1567.1 L979.5 1565.8 L980.8 1562.8 L982.0 1562.6 L983.3 1558.1 L984.5 1555.9 L985.7 1554.4 L987.0 1555.4 L988.2 1555.6 L989.5 1555.7 L990.7 1553.8 L991.9 1554.5 L993.2 1555.5 L994.4 1555.8 L995.7 1556.7 L996.9 1559.9 L997.9 1562.9 L999.0 1565.8 L1000.0 1570.2 L1001.1 1575.2 L1002.1 1574.9 L1003.1 1582.7 L1004.2 1586.0 L1005.2 1590.1 L1006.2 1592.8 L1007.3 1602.4 L1008.3 1609.0 L1009.4 1614.8 L1010.4 1617.9 L1011.5 1624.2 L1012.5 1629.7 L1013.8 1631.4 L1015.0 1635.6 L1016.3 1635.5 L1017.6 1642.6 L1018.9 1635.5 L1020.2 1632.6 L1021.5 1631.9 L1022.8 1627.6 L1023.8 1622.5 L1024.9 1616.5 L1026.0 1613.1 L1027.0 1606.9 L1028.0 1600.7 L1029.0 1593.7 L1030.1 1584.0 L1031.1 1580.1 L1032.1 1571.9 L1033.2 1564.2 L1034.2 1561.5 L1035.2 1551.7 L1036.2 1553.8 L1037.3 1547.2 L1038.3 1548.6 L1039.4 1542.0 L1040.4 1537.8 L1041.7 1544.4 L1043.0 1545.0 L1044.3 1549.0 L1045.6 1553.1 L1046.6 1553.5 L1047.7 1557.0 L1048.7 1560.9 L1049.7 1567.2 L1050.8 1569.7 L1051.8 1573.5 L1052.9 1580.3 L1053.9 1586.9 L1054.9 1587.6 L1056.0 1593.0 L1057.0 1597.2 L1058.0 1600.8 L1059.0 1603.0 L1060.1 1605.8 L1061.1 1608.2 L1062.2 1607.6 L1063.2 1609.2 L1064.2 1613.7 L1065.3 1612.6 L1066.3 1616.2 L1067.4 1617.5 L1068.4 1620.7 L1069.7 1614.9 L1071.0 1611.1 L1072.3 1605.1 L1073.6 1602.9 L1074.6 1596.1 L1075.7 1594.3 L1076.7 1590.1 L1077.7 1586.6 L1078.7 1580.7 L1079.8 1575.8 L1080.8 1570.6 L1081.9 1567.0 L1082.9 1564.4 L1084.1 1562.5 L1085.4 1560.3 L1086.6 1556.8 L1087.9 1553.9 L1089.1 1550.6 L1090.3 1554.9 L1091.6 1554.4 L1092.8 1554.8 L1094.1 1556.7 L1095.3 1559.9 L1096.3 1558.7 L1097.4 1560.7 L1098.5 1562.1 L1099.5 1565.6 L1100.8 1566.0 L1102.0 1569.0 L1103.3 1573.5 L1104.6 1574.7 L1105.8 1578.2 L1107.0 1581.2 L1108.2 1582.8 L1109.5 1587.3 L1110.7 1587.1 L1111.9 1589.0 L1113.2 1587.7 L1114.5 1584.5 L1115.8 1582.9 L1117.1 1580.6 L1118.3 1577.8 L1119.6 1574.7 L1120.8 1573.1 L1122.1 1575.1 L1123.3 1571.1 L1124.5 1574.9 L1125.8 1573.1 L1127.0 1572.4 L1128.3 1572.5 L1129.5 1572.0 L1130.5 1576.8 L1131.5 1580.9 L1132.6 1583.9 L1133.6 1587.0 L1134.8 1588.7 L1136.1 1589.9 L1137.3 1593.9 L1138.6 1594.9 L1139.8 1598.1 L1141.1 1597.5 L1142.3 1597.1 L1143.6 1597.4 L1144.8 1597.5 L1146.1 1598.7 L1147.4 1596.1 L1148.7 1592.8 L1149.9 1587.9 L1151.2 1585.3 L1152.2 1582.8 L1153.3 1576.5 L1154.4 1571.2 L1155.4 1565.8 L1156.4 1562.8 L1157.5 1557.2 L1158.5 1552.9 L1159.5 1551.9 L1160.7 1547.9 L1162.0 1547.3 L1163.2 1547.1 L1164.5 1543.0 L1165.7 1540.2 L1166.7 1541.2 L1167.8 1538.7 L1168.8 1539.2 L1169.9 1539.2 L1170.9 1540.1 L1172.1 1544.0 L1173.4 1545.7 L1174.6 1548.7 L1175.9 1548.5 L1177.1 1549.3 L1178.3 1552.8 L1179.6 1556.4 L1180.8 1559.2 L1182.1 1562.0 L1183.3 1566.6 L1184.3 1572.2 L1185.4 1579.4 L1186.4 1586.1 L1187.5 1587.8 L1188.5 1592.6 L1189.5 1599.2 L1190.6 1604.1 L1191.6 1603.2 L1192.7 1605.2 L1193.7 1608.8 L1194.8 1609.8 L1195.8 1612.0 L1197.1 1605.7 L1198.3 1604.1 L1199.6 1600.1 L1200.9 1595.8 L1202.0 1592.2 L1203.0 1589.3 L1204.0 1584.8 L1205.1 1582.9 L1206.1 1578.6 L1207.2 1570.6 L1208.2 1565.6 L1209.2 1557.8 L1210.3 1549.6 L1211.3 1546.0 L1212.3 1539.1 L1213.4 1534.1 L1214.4 1531.6 L1215.6 1532.6 L1216.9 1534.2 L1218.1 1533.7 L1219.4 1532.3 L1220.6 1531.0 L1221.6 1536.0 L1222.7 1538.4 L1223.8 1541.5 L1224.8 1543.6 L1225.8 1547.8 L1226.9 1551.1 L1227.9 1557.2 L1228.9 1563.3 L1230.0 1567.1 L1231.0 1573.8 L1232.0 1576.5 L1233.0 1579.8 L1234.1 1584.1 L1235.1 1587.6 L1236.1 1588.8 L1237.2 1591.7 L1238.2 1594.0 L1239.3 1595.6 L1240.5 1595.3 L1241.8 1593.9 L1243.0 1589.8 L1244.3 1587.8 L1245.5 1586.6 L1246.8 1585.2 L1248.0 1580.0 L1249.3 1580.4 L1250.6 1577.8 L1251.8 1575.2 L1253.0 1571.3" fill="none" stroke="#3b55a6" stroke-width="2.9" stroke-dasharray="8.3 9.7" stroke-linecap="round" stroke-linejoin="round"/>
<path d="M182.0 1568.8 L183.4 1568.0 L184.8 1565.6 L186.2 1565.8 L187.6 1566.8 L188.9 1564.4 L190.3 1567.4 L191.7 1564.6 L193.1 1566.0 L194.5 1563.8 L195.9 1566.0 L197.3 1567.0 L198.7 1567.0 L200.0 1566.0 L201.4 1562.1 L202.8 1564.8 L204.2 1565.7 L205.6 1567.3 L207.0 1565.7 L208.4 1567.1 L209.8 1566.4 L211.1 1565.1 L212.5 1568.2 L213.9 1567.3 L215.3 1566.3 L216.7 1567.3 L218.1 1569.3 L219.5 1566.7 L220.8 1564.9 L222.2 1567.8 L223.6 1563.4 L225.0 1566.8 L226.4 1568.3 L227.8 1567.3 L229.2 1567.0 L230.6 1565.3 L231.9 1565.2 L233.3 1566.9 L234.7 1564.8 L236.1 1569.6 L237.5 1566.7 L238.9 1568.8 L240.3 1568.9 L241.7 1567.1 L243.0 1568.7 L244.4 1567.7 L245.8 1567.4 L247.2 1566.8 L248.6 1566.3 L250.0 1567.6 L251.4 1566.7 L252.8 1564.7 L254.2 1567.4 L255.6 1566.7 L257.0 1564.4 L258.4 1567.7 L259.8 1565.4 L261.2 1565.2 L262.6 1567.8 L264.0 1563.2 L265.4 1571.0 L266.8 1565.1 L268.2 1570.4 L269.6 1564.5 L271.0 1566.1 L272.4 1564.4 L273.8 1565.4 L275.2 1565.9 L276.6 1567.5 L278.0 1565.4 L279.4 1568.1 L280.8 1565.8 L282.2 1569.6 L283.5 1567.2 L284.9 1566.6 L286.3 1566.8 L287.7 1567.9 L289.1 1564.4 L290.5 1568.0 L291.9 1565.7 L293.3 1567.4 L294.7 1567.8 L296.1 1564.7 L297.5 1566.4 L298.9 1565.9 L300.3 1566.5 L301.7 1569.4 L303.1 1570.2 L304.5 1570.5 L305.9 1566.9 L307.3 1566.4 L308.7 1566.9 L310.1 1567.4 L311.5 1568.9 L312.9 1568.7 L314.3 1565.4 L315.7 1569.7 L317.1 1569.2 L318.5 1566.2 L319.8 1566.1 L321.2 1567.6 L322.6 1566.0 L324.0 1567.3 L325.3 1567.7 L326.7 1571.0 L328.1 1569.6 L329.4 1565.8 L330.8 1569.5 L332.2 1567.3 L333.6 1569.5 L334.9 1571.0 L336.3 1570.7 L337.7 1568.7 L339.1 1571.4 L340.4 1569.6 L341.8 1570.3 L343.2 1571.2 L344.5 1570.6 L345.9 1571.3 L347.3 1568.5 L348.7 1569.0 L350.0 1568.9 L351.4 1570.6 L352.7 1570.0 L354.1 1570.5 L355.4 1572.7 L356.8 1570.3 L358.1 1570.4 L359.5 1571.1 L360.8 1571.6 L362.2 1573.8 L363.5 1573.1 L364.9 1570.1 L366.2 1571.8 L367.6 1570.1 L368.9 1574.5 L370.3 1574.5 L371.6 1570.4 L373.0 1574.3 L374.3 1573.5 L375.4 1574.5 L376.6 1575.3 L377.7 1578.0 L378.9 1579.9 L380.0 1579.2 L381.4 1581.9 L382.7 1581.7 L384.1 1581.0 L385.5 1582.9 L386.8 1583.7 L388.2 1579.2 L389.5 1581.8 L390.9 1582.5 L392.3 1582.9 L393.6 1584.6 L395.0 1581.3 L396.2 1584.1 L397.5 1584.3 L398.8 1587.9 L400.0 1585.4 L401.2 1587.9 L402.5 1591.2 L403.8 1592.7 L405.0 1592.3 L406.3 1593.3 L407.6 1596.2 L408.9 1593.0 L410.2 1595.1 L411.5 1593.6 L412.8 1597.3 L414.1 1596.5 L415.4 1595.7 L416.7 1599.0 L418.0 1598.0 L419.4 1598.1 L420.8 1599.8 L422.1 1600.1 L423.5 1598.3 L424.9 1597.1 L426.2 1598.4 L427.6 1596.6 L429.0 1598.7 L430.4 1596.5 L431.8 1597.2 L433.1 1597.3 L434.5 1599.3 L435.9 1598.5 L437.2 1597.6 L438.6 1598.7 L440.0 1597.5 L441.4 1598.3 L442.8 1598.4 L444.2 1597.6 L445.6 1595.9 L447.0 1597.9 L448.4 1595.8 L449.8 1593.7 L451.2 1594.0 L452.6 1595.0 L454.0 1591.7 L455.3 1593.5 L456.7 1593.9 L458.0 1595.0 L459.3 1595.8 L460.7 1596.8 L462.0 1599.6 L463.3 1601.9 L464.7 1599.1 L466.0 1601.2 L467.4 1603.0 L468.8 1600.3 L470.2 1599.3 L471.6 1600.6 L473.0 1599.8 L474.4 1600.6 L475.8 1599.3 L477.2 1597.1 L478.6 1598.6 L480.0 1597.8 L481.3 1599.7 L482.7 1596.5 L484.0 1597.9 L485.3 1599.1 L486.7 1599.4 L488.0 1595.5 L489.3 1604.2 L490.7 1607.3 L492.0 1610.6 L493.3 1617.3 L494.7 1621.8 L496.0 1631.1 L497.3 1638.7 L498.7 1648.3 L500.0 1655.1 L501.0 1666.1 L502.0 1671.5 L503.0 1680.1 L504.3 1689.8 L505.7 1693.5 L507.0 1697.8 L508.3 1703.3 L509.7 1707.6 L511.0 1710.7 L512.4 1712.6 L513.8 1711.8 L515.2 1714.6 L516.6 1716.3 L518.0 1716.9 L519.2 1720.4 L520.4 1721.9 L521.6 1723.4 L522.8 1725.6 L524.0 1725.4 L525.2 1728.4 L526.4 1732.0 L527.6 1733.1 L528.8 1736.7 L530.0 1739.1 L531.0 1745.5 L532.0 1749.1 L533.0 1758.3 L534.2 1759.8 L535.5 1762.3 L536.8 1763.4 L538.0 1766.6 L539.2 1761.5 L540.4 1761.3 L541.6 1761.4 L542.8 1758.7 L544.0 1761.1 L545.3 1756.4 L546.7 1751.9 L548.0 1743.3 L549.3 1742.7 L550.7 1736.5 L552.0 1731.6 L553.2 1730.1 L554.4 1724.8 L555.6 1723.3 L556.8 1719.1 L558.0 1715.7 L559.3 1716.4 L560.7 1711.6 L562.0 1710.5 L563.3 1706.5 L564.7 1705.4 L566.0 1698.5 L567.2 1700.4 L568.4 1698.3 L569.6 1698.1 L570.8 1696.4 L572.0 1695.0 L573.4 1692.9 L574.8 1693.3 L576.2 1689.6 L577.6 1687.0 L579.0 1685.4 L580.2 1680.7 L581.5 1677.3 L582.8 1671.8 L584.0 1669.8 L585.3 1664.3 L586.7 1660.1 L588.0 1652.2 L589.2 1648.2 L590.4 1645.4 L591.6 1644.3 L592.8 1639.2 L594.0 1638.5 L595.3 1634.7 L596.7 1634.9 L598.0 1633.8 L599.3 1634.6 L600.7 1633.4 L602.0 1632.8 L603.3 1635.9 L604.7 1634.2 L606.0 1635.2 L607.3 1638.4 L608.7 1639.1 L610.0 1640.6 L611.4 1641.9 L612.8 1642.0 L614.2 1643.5 L615.6 1644.6 L617.0 1649.2 L618.2 1644.2 L619.5 1645.6 L620.8 1643.2 L622.0 1642.4 L623.2 1639.9 L624.4 1638.0 L625.6 1638.0 L626.8 1632.9 L628.0 1632.6 L629.3 1631.3 L630.7 1627.8 L632.0 1625.7 L633.3 1624.2 L634.7 1620.0 L636.0 1619.9 L637.2 1619.3 L638.4 1618.0 L639.6 1617.0 L640.8 1614.8 L642.0 1615.5 L643.3 1615.3 L644.7 1610.8 L646.0 1612.6 L647.3 1613.6 L648.7 1611.2 L650.0 1613.0 L651.3 1613.2 L652.7 1609.3 L654.0 1609.1 L655.3 1606.0 L656.7 1607.1 L658.0 1604.6 L659.3 1599.2 L660.7 1595.8 L662.0 1590.9 L663.4 1588.1 L664.8 1583.7 L666.2 1579.9 L667.6 1574.0 L669.0 1570.4 L670.4 1569.2 L671.8 1569.9 L673.2 1567.0 L674.6 1566.5 L676.0 1564.8 L677.2 1565.4 L678.4 1567.7 L679.6 1565.4 L680.8 1568.8 L682.0 1568.9 L683.4 1569.1 L684.8 1573.7 L686.2 1573.8 L687.6 1578.7 L689.0 1579.0 L690.4 1581.4 L691.8 1580.6 L693.2 1579.4 L694.6 1580.0 L696.0 1579.2 L697.3 1576.9 L698.7 1573.9 L700.0 1568.4 L701.3 1566.4 L702.7 1562.9 L704.0 1562.1 L705.3 1560.4 L706.7 1555.3 L708.0 1555.0 L709.3 1556.4 L710.7 1557.8 L712.0 1556.5 L713.3 1555.2 L714.7 1557.7 L716.0 1558.2 L717.3 1558.8 L718.7 1557.8 L720.0 1560.3 L721.3 1563.7 L722.7 1566.1 L724.0 1565.9 L725.3 1565.9 L726.7 1565.4 L728.0 1567.1 L729.3 1568.6 L730.7 1565.0 L732.0 1566.7 L733.3 1564.6 L734.7 1567.8 L736.0 1562.5 L737.3 1564.2 L738.7 1564.9 L740.0 1566.4 L741.3 1566.2 L742.7 1565.1 L744.0 1567.9 L745.3 1568.8 L746.7 1568.9 L748.0 1566.9 L749.3 1566.3 L750.7 1567.2 L752.0 1567.1 L753.3 1568.0 L754.7 1564.9 L756.0 1565.7 L757.3 1566.1 L758.7 1565.3 L760.0 1564.7 L761.3 1563.1 L762.7 1561.1 L764.0 1562.3 L765.3 1564.6 L766.7 1562.1 L768.0 1560.7 L769.3 1560.0 L770.7 1560.4 L772.0 1561.4 L773.3 1559.8 L774.7 1560.8 L776.0 1559.1 L777.3 1560.2 L778.7 1558.4 L780.0 1557.7 L781.3 1556.6 L782.7 1558.5 L784.0 1559.5 L785.3 1561.4 L786.7 1559.4 L788.0 1560.8 L789.3 1561.2 L790.7 1559.9 L792.0 1560.4 L793.3 1561.1 L794.7 1559.4 L796.0 1563.4 L797.3 1562.4 L798.7 1564.2 L800.0 1564.9 L801.3 1567.9 L802.7 1566.6 L804.0 1569.8 L805.3 1567.4 L806.7 1569.0 L808.0 1567.0 L809.3 1569.4 L810.7 1568.6 L812.0 1569.8 L813.3 1568.9 L814.7 1570.4 L816.0 1569.7 L817.2 1569.2 L818.4 1567.6 L819.6 1566.1 L820.8 1565.6 L822.0 1562.6 L823.2 1562.6 L824.5 1561.2 L825.8 1562.8 L827.0 1563.8 L828.2 1561.9 L829.5 1562.7 L830.8 1561.2 L832.0 1562.4 L833.3 1563.7 L834.7 1565.4 L836.0 1567.3 L837.3 1566.8 L838.7 1565.6 L840.0 1571.1 L841.3 1568.2 L842.7 1570.9 L844.0 1568.7 L845.4 1567.1 L846.8 1568.4 L848.2 1569.2 L849.6 1567.4 L851.0 1566.6 L852.4 1567.1 L853.8 1566.8 L855.2 1567.1 L856.6 1564.6 L858.0 1560.9 L859.3 1563.9 L860.7 1564.3 L862.0 1565.6 L863.3 1568.6 L864.7 1564.5 L866.0 1565.5 L867.3 1568.6 L868.7 1569.3 L870.0 1569.4 L871.2 1570.2 L872.4 1573.5 L873.6 1570.5 L874.8 1570.3 L876.0 1575.1 L877.3 1570.0 L878.7 1569.7 L880.0 1565.2 L881.2 1565.7 L882.5 1563.8 L883.8 1560.5 L885.0 1563.2 L886.2 1562.9 L887.5 1563.4 L888.8 1561.7 L890.0 1561.2 L891.2 1562.0 L892.5 1561.0 L893.8 1558.9 L895.0 1562.3 L896.2 1559.3 L897.5 1558.9 L898.8 1561.3 L900.0 1558.3 L901.3 1559.9 L902.7 1559.5 L904.0 1559.9 L905.3 1556.1 L906.7 1557.3 L908.0 1557.8 L909.4 1556.1 L910.8 1556.4 L912.2 1556.3 L913.6 1558.4 L915.0 1552.7 L916.2 1554.3 L917.5 1558.2 L918.8 1558.4 L920.0 1557.9 L921.3 1559.7 L922.7 1564.4 L924.0 1566.1 L925.3 1568.3 L926.7 1569.4 L928.0 1567.8 L929.3 1570.4 L930.7 1570.6 L932.0 1573.6 L933.3 1569.3 L934.7 1572.2 L936.0 1573.7 L937.3 1569.5 L938.7 1568.3 L940.0 1567.7 L941.3 1564.2 L942.7 1561.7 L944.0 1559.2 L945.3 1558.4 L946.6 1559.4 L947.9 1556.6 L949.1 1556.7 L950.4 1556.9 L951.7 1554.6 L953.0 1556.6 L954.4 1558.6 L955.8 1555.7 L957.1 1559.0 L958.5 1556.4 L959.9 1560.4 L961.2 1558.5 L962.6 1562.1 L964.0 1560.5 L965.3 1558.7 L966.7 1562.1 L968.0 1563.0 L969.3 1562.6 L970.7 1562.8 L972.0 1564.6 L973.3 1566.3 L974.5 1565.1 L975.8 1567.6 L977.0 1567.8 L978.3 1570.5 L979.7 1570.7 L981.1 1571.1 L982.5 1571.4 L983.8 1573.3 L985.2 1572.9 L986.6 1574.4 L987.9 1575.7 L989.2 1574.4 L990.5 1573.2 L991.8 1574.4 L993.0 1572.5 L994.3 1572.5 L995.6 1570.9 L996.9 1572.4 L998.1 1570.3 L999.4 1568.3 L1000.6 1568.9 L1001.9 1565.4 L1003.1 1565.4 L1004.5 1565.4 L1005.9 1565.8 L1007.2 1563.0 L1008.6 1564.4 L1010.0 1565.4 L1011.4 1563.5 L1012.7 1564.1 L1014.0 1564.8 L1015.4 1563.7 L1016.7 1562.8 L1018.0 1560.9 L1019.3 1561.6 L1020.6 1560.8 L1021.9 1561.4 L1023.3 1560.4 L1024.6 1561.0 L1025.9 1558.1 L1027.3 1561.7 L1028.7 1562.9 L1030.1 1560.3 L1031.4 1563.3 L1032.8 1561.2 L1034.2 1561.6 L1035.6 1562.7 L1037.0 1565.3 L1038.3 1566.8 L1039.7 1567.5 L1041.1 1568.1 L1042.5 1570.4 L1043.9 1570.9 L1045.3 1568.3 L1046.7 1571.6 L1048.0 1569.7 L1049.4 1572.2 L1050.8 1573.0 L1052.2 1570.5 L1053.6 1571.8 L1054.9 1567.9 L1056.3 1569.2 L1057.7 1568.9 L1059.1 1566.1 L1060.4 1564.5 L1061.8 1565.1 L1063.2 1563.5 L1064.5 1562.0 L1065.8 1562.4 L1067.1 1559.7 L1068.4 1562.0 L1069.7 1559.5 L1071.0 1560.6 L1072.3 1558.4 L1073.6 1558.4 L1075.0 1559.2 L1076.3 1558.1 L1077.7 1559.1 L1079.1 1557.4 L1080.4 1557.6 L1081.8 1557.6 L1083.2 1558.7 L1084.6 1560.6 L1085.9 1560.6 L1087.3 1562.7 L1088.7 1565.2 L1090.1 1568.3 L1091.5 1566.1 L1092.9 1568.4 L1094.2 1570.8 L1095.6 1572.8 L1097.0 1573.7 L1098.4 1575.1 L1099.8 1576.6 L1101.2 1573.8 L1102.6 1576.7 L1103.9 1576.2 L1105.3 1575.8 L1106.7 1574.4 L1108.1 1575.6 L1109.5 1574.6 L1110.8 1571.9 L1112.2 1572.1 L1113.6 1570.6 L1115.0 1570.9 L1116.3 1570.0 L1117.6 1567.0 L1118.9 1567.5 L1120.2 1567.4 L1121.4 1567.4 L1122.7 1566.2 L1124.0 1566.9 L1125.3 1566.5 L1126.7 1565.3 L1128.1 1562.7 L1129.4 1561.9 L1130.8 1562.7 L1132.2 1560.3 L1133.6 1560.8 L1134.9 1559.7 L1136.2 1560.2 L1137.5 1557.6 L1138.8 1560.5 L1140.1 1560.2 L1141.4 1559.5 L1142.7 1560.4 L1144.0 1556.9 L1145.3 1560.1 L1146.6 1558.9 L1147.9 1560.0 L1149.2 1562.2 L1150.4 1562.2 L1151.7 1561.8 L1153.0 1563.8 L1154.3 1564.9 L1155.7 1564.4 L1157.1 1567.8 L1158.4 1567.3 L1159.8 1569.1 L1161.2 1569.6 L1162.6 1572.1 L1163.9 1570.4 L1165.2 1571.1 L1166.6 1570.2 L1167.9 1570.1 L1169.2 1570.6 L1170.5 1570.0 L1171.8 1570.6 L1173.1 1570.2 L1174.5 1570.5 L1175.8 1571.7 L1177.1 1571.0 L1178.4 1569.7 L1179.7 1569.8 L1181.0 1568.2 L1182.3 1566.0 L1183.6 1569.0 L1184.9 1568.2 L1186.2 1567.5 L1187.5 1566.2 L1188.8 1565.2 L1190.1 1567.0 L1191.4 1566.0 L1192.7 1567.1 L1193.9 1563.6 L1195.2 1565.1 L1196.5 1565.9 L1197.8 1564.7 L1199.2 1564.3 L1200.6 1564.5 L1202.0 1564.5 L1203.4 1567.1 L1204.7 1564.3 L1206.1 1564.7 L1207.5 1568.7 L1208.9 1568.5 L1210.3 1566.5 L1211.6 1567.3 L1212.9 1566.1 L1214.2 1568.2 L1215.4 1567.8 L1216.7 1570.8 L1218.0 1570.1 L1219.3 1569.8 L1220.6 1568.0 L1221.9 1570.7 L1223.2 1570.1 L1224.5 1571.2 L1225.8 1572.4 L1227.1 1571.4 L1228.4 1574.6 L1229.7 1573.4 L1231.0 1574.6 L1232.4 1573.7 L1233.8 1573.7 L1235.2 1571.3 L1236.5 1572.9 L1237.9 1573.7 L1239.3 1573.6 L1240.7 1570.7 L1242.0 1568.6 L1243.4 1569.1 L1244.8 1567.5 L1246.1 1566.5 L1247.5 1563.7 L1248.6 1562.2 L1249.8 1561.5 L1250.9 1559.2 L1252.0 1556.2" fill="none" stroke="#000" stroke-width="5.5" stroke-linejoin="round" stroke-linecap="round"/>
</g>
<g stroke="#000" stroke-width="6.8" stroke-linecap="round" fill="none">
<path d="M1255.6 1483.3 L180.6 1483.3 L180.6 1848.6 L1255.6 1848.6" stroke-linejoin="round"/>
<path d="M180.6 1483.3 H197.6"/>
<path d="M180.6 1529.0 H189.6"/>
<path d="M180.6 1574.7 H197.6"/>
<path d="M180.6 1620.3 H189.6"/>
<path d="M180.6 1666.0 H197.6"/>
<path d="M180.6 1711.7 H189.6"/>
<path d="M180.6 1757.3 H197.6"/>
<path d="M180.6 1803.0 H189.6"/>
<path d="M180.6 1848.6 H197.6"/>
<path d="M181.0 1848.6 V1831.6"/>
<path d="M248.1 1848.6 V1840.1"/>
<path d="M315.2 1848.6 V1831.6"/>
<path d="M382.4 1848.6 V1840.1"/>
<path d="M449.5 1848.6 V1831.6"/>
<path d="M516.6 1848.6 V1840.1"/>
<path d="M583.7 1848.6 V1831.6"/>
<path d="M650.8 1848.6 V1840.1"/>
<path d="M718.0 1848.6 V1831.6"/>
<path d="M785.1 1848.6 V1840.1"/>
<path d="M852.2 1848.6 V1831.6"/>
<path d="M919.3 1848.6 V1840.1"/>
<path d="M986.4 1848.6 V1831.6"/>
<path d="M1053.5 1848.6 V1840.1"/>
<path d="M1120.7 1848.6 V1831.6"/>
<path d="M1187.8 1848.6 V1840.1"/>
<path d="M1254.9 1848.6 V1831.6"/>
</g>
<path d="M1255.6 1483.3 V1848.6" stroke="#000" stroke-width="7" stroke-linecap="round"/>
<g stroke="#3b55a6" stroke-width="3.4" stroke-linecap="round" fill="none">
<path d="M1255.6 1483.3 V1848.6"/>
<path d="M1255.6 1483.3 H1238.6"/>
<path d="M1255.6 1529.0 H1246.6"/>
<path d="M1255.6 1574.7 H1238.6"/>
<path d="M1255.6 1620.3 H1246.6"/>
<path d="M1255.6 1666.0 H1238.6"/>
<path d="M1255.6 1711.7 H1246.6"/>
<path d="M1255.6 1757.3 H1238.6"/>
<path d="M1255.6 1803.0 H1246.6"/>
<path d="M1255.6 1848.6 H1238.6"/>
</g>
<g font-family="Liberation Serif" font-size="52.3" fill="#000">
<text transform="translate(162.3 1497.0) scale(0.958 1)" text-anchor="end">40</text>
<text transform="translate(162.3 1588.4) scale(0.958 1)" text-anchor="end">0</text>
<text transform="translate(162.3 1679.7) scale(0.958 1)" text-anchor="end">-40</text>
<text transform="translate(162.3 1771.0) scale(0.958 1)" text-anchor="end">-80</text>
<text transform="translate(162.3 1862.3) scale(0.958 1)" text-anchor="end">-120</text>
<text transform="translate(181.0 1905.6) scale(0.958 1)" text-anchor="middle">0</text>
<text transform="translate(315.2 1905.6) scale(0.958 1)" text-anchor="middle">50</text>
<text transform="translate(449.5 1905.6) scale(0.958 1)" text-anchor="middle">100</text>
<text transform="translate(583.7 1905.6) scale(0.958 1)" text-anchor="middle">150</text>
<text transform="translate(718.0 1905.6) scale(0.958 1)" text-anchor="middle">200</text>
<text transform="translate(852.2 1905.6) scale(0.958 1)" text-anchor="middle">250</text>
<text transform="translate(986.4 1905.6) scale(0.958 1)" text-anchor="middle">300</text>
<text transform="translate(1120.7 1905.6) scale(0.958 1)" text-anchor="middle">350</text>
<text transform="translate(1254.9 1905.6) scale(0.958 1)" text-anchor="middle">400</text>
</g>
<g font-family="Liberation Serif" font-size="52.3" fill="#3b55a6">
<text transform="translate(1273.5 1497.0) scale(0.958 1)">20</text>
<text transform="translate(1273.5 1588.4) scale(0.958 1)">0</text>
<text transform="translate(1273.5 1679.7) scale(0.958 1)">-20</text>
<text transform="translate(1273.5 1771.0) scale(0.958 1)">-40</text>
<text transform="translate(1273.5 1862.3) scale(0.958 1)">-60</text>
</g>
<text x="1033.0" y="272.9" font-family="Liberation Sans" font-size="54" textLength="171.0" lengthAdjust="spacingAndGlyphs">0.5 mm</text>
<text x="1062.6" y="793.9" font-family="Liberation Sans" font-size="54" textLength="127.4" lengthAdjust="spacingAndGlyphs">1 mm</text>
<text x="1041.5" y="1267.1" font-family="Liberation Sans" font-size="54" textLength="170.0" lengthAdjust="spacingAndGlyphs">1.5 mm</text>
<text x="1064.0" y="1764.6" font-family="Liberation Sans" font-size="54" textLength="130.5" lengthAdjust="spacingAndGlyphs">2 mm</text>
<path d="M201 338.8 H320" stroke="#3b55a6" stroke-width="3" stroke-linecap="round" stroke-dasharray="8.7 13"/>
<text x="331.8" y="355.5" font-family="Liberation Serif" font-size="54" textLength="165.5" lengthAdjust="spacingAndGlyphs">Current</text>
<path d="M548.6 334.9 H668.6" stroke="#000" stroke-width="5.2" stroke-linecap="round"/>
<text x="683.8" y="352" font-family="Liberation Sans" font-size="51" textLength="168" lengthAdjust="spacingAndGlyphs">Voltage</text>
<text x="590" y="1978.6" font-family="Liberation Serif" font-size="52.5" textLength="196" lengthAdjust="spacingAndGlyphs">Time (ns)</text>
<text transform="translate(38.2 895.2) rotate(-90)" text-anchor="middle" font-family="Liberation Serif" font-size="52.5" textLength="438" lengthAdjust="spacingAndGlyphs">Applied voltage (kV)</text>
<text transform="translate(1387 916.7) rotate(-90)" text-anchor="middle" font-family="Liberation Serif" font-size="52.5" fill="#3b55a6" textLength="449.2" lengthAdjust="spacingAndGlyphs">Discharge current (A)</text>
</svg></body></html>
